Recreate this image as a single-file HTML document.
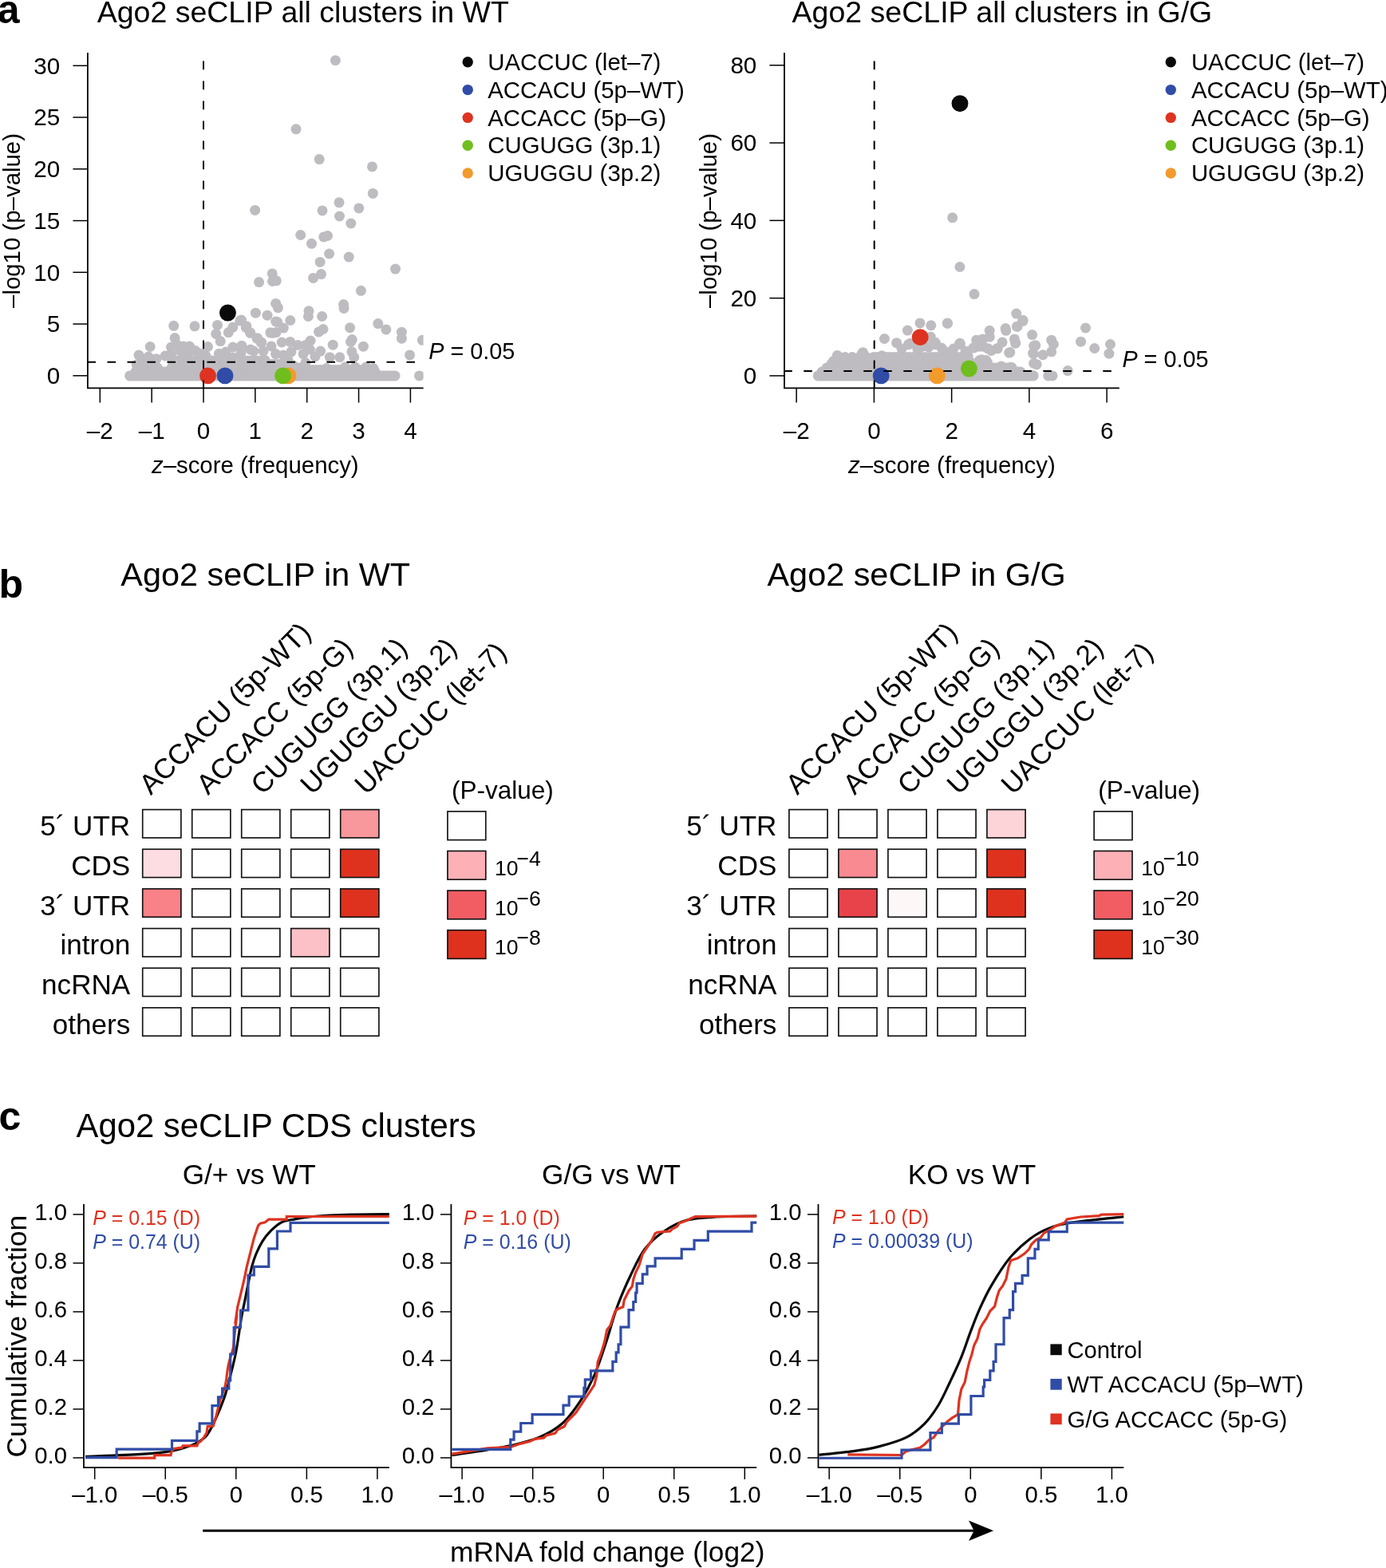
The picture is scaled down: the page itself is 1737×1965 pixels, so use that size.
<!DOCTYPE html>
<html><head><meta charset="utf-8"><title>Ago2 seCLIP figure</title>
<style>
html,body{margin:0;padding:0;background:#fff;}
svg{display:block;}
text{font-family:"Liberation Sans", Arial, Helvetica, sans-serif;}
</style></head>
<body>
<svg width="1737" height="1965" viewBox="0 0 1737 1965">
<rect x="0" y="0" width="1737" height="1965" fill="#fff"/>
<text x="-3.2" y="28.5" font-size="50" font-weight="bold">a</text>
<text x="121.7" y="28.4" font-size="37.5">Ago2 seCLIP all clusters in WT</text>
<clipPath id="cwt"><rect x="109.9" y="66" width="420.7" height="420.3"/></clipPath>
<g clip-path="url(#cwt)">
<g fill="#bebcc0">
<circle cx="162.6" cy="470.9" r="6.5"/>
<circle cx="165.1" cy="470.9" r="6.5"/>
<circle cx="167.6" cy="470.9" r="6.5"/>
<circle cx="170.1" cy="470.9" r="6.5"/>
<circle cx="172.6" cy="470.9" r="6.5"/>
<circle cx="175.1" cy="470.9" r="6.5"/>
<circle cx="177.6" cy="470.9" r="6.5"/>
<circle cx="180.1" cy="470.9" r="6.5"/>
<circle cx="182.6" cy="470.9" r="6.5"/>
<circle cx="185.1" cy="470.9" r="6.5"/>
<circle cx="187.6" cy="470.9" r="6.5"/>
<circle cx="190.1" cy="470.9" r="6.5"/>
<circle cx="192.6" cy="470.9" r="6.5"/>
<circle cx="195.1" cy="470.9" r="6.5"/>
<circle cx="197.6" cy="470.9" r="6.5"/>
<circle cx="200.1" cy="470.9" r="6.5"/>
<circle cx="202.6" cy="470.9" r="6.5"/>
<circle cx="205.1" cy="470.9" r="6.5"/>
<circle cx="207.6" cy="470.9" r="6.5"/>
<circle cx="210.1" cy="470.9" r="6.5"/>
<circle cx="212.6" cy="470.9" r="6.5"/>
<circle cx="215.1" cy="470.9" r="6.5"/>
<circle cx="217.6" cy="470.9" r="6.5"/>
<circle cx="220.1" cy="470.9" r="6.5"/>
<circle cx="222.6" cy="470.9" r="6.5"/>
<circle cx="225.1" cy="470.9" r="6.5"/>
<circle cx="227.6" cy="470.9" r="6.5"/>
<circle cx="230.1" cy="470.9" r="6.5"/>
<circle cx="232.6" cy="470.9" r="6.5"/>
<circle cx="235.1" cy="470.9" r="6.5"/>
<circle cx="237.6" cy="470.9" r="6.5"/>
<circle cx="240.1" cy="470.9" r="6.5"/>
<circle cx="242.6" cy="470.9" r="6.5"/>
<circle cx="245.1" cy="470.9" r="6.5"/>
<circle cx="247.6" cy="470.9" r="6.5"/>
<circle cx="250.1" cy="470.9" r="6.5"/>
<circle cx="252.6" cy="470.9" r="6.5"/>
<circle cx="255.1" cy="470.9" r="6.5"/>
<circle cx="257.6" cy="470.9" r="6.5"/>
<circle cx="260.1" cy="470.9" r="6.5"/>
<circle cx="262.6" cy="470.9" r="6.5"/>
<circle cx="265.1" cy="470.9" r="6.5"/>
<circle cx="267.6" cy="470.9" r="6.5"/>
<circle cx="270.1" cy="470.9" r="6.5"/>
<circle cx="272.6" cy="470.9" r="6.5"/>
<circle cx="275.1" cy="470.9" r="6.5"/>
<circle cx="277.6" cy="470.9" r="6.5"/>
<circle cx="280.1" cy="470.9" r="6.5"/>
<circle cx="282.6" cy="470.9" r="6.5"/>
<circle cx="285.1" cy="470.9" r="6.5"/>
<circle cx="287.6" cy="470.9" r="6.5"/>
<circle cx="290.1" cy="470.9" r="6.5"/>
<circle cx="292.6" cy="470.9" r="6.5"/>
<circle cx="295.1" cy="470.9" r="6.5"/>
<circle cx="297.6" cy="470.9" r="6.5"/>
<circle cx="300.1" cy="470.9" r="6.5"/>
<circle cx="302.6" cy="470.9" r="6.5"/>
<circle cx="305.1" cy="470.9" r="6.5"/>
<circle cx="307.6" cy="470.9" r="6.5"/>
<circle cx="310.1" cy="470.9" r="6.5"/>
<circle cx="312.6" cy="470.9" r="6.5"/>
<circle cx="315.1" cy="470.9" r="6.5"/>
<circle cx="317.6" cy="470.9" r="6.5"/>
<circle cx="320.1" cy="470.9" r="6.5"/>
<circle cx="322.6" cy="470.9" r="6.5"/>
<circle cx="325.1" cy="470.9" r="6.5"/>
<circle cx="327.6" cy="470.9" r="6.5"/>
<circle cx="330.1" cy="470.9" r="6.5"/>
<circle cx="332.6" cy="470.9" r="6.5"/>
<circle cx="335.1" cy="470.9" r="6.5"/>
<circle cx="337.6" cy="470.9" r="6.5"/>
<circle cx="340.1" cy="470.9" r="6.5"/>
<circle cx="342.6" cy="470.9" r="6.5"/>
<circle cx="345.1" cy="470.9" r="6.5"/>
<circle cx="347.6" cy="470.9" r="6.5"/>
<circle cx="350.1" cy="470.9" r="6.5"/>
<circle cx="352.6" cy="470.9" r="6.5"/>
<circle cx="355.1" cy="470.9" r="6.5"/>
<circle cx="357.6" cy="470.9" r="6.5"/>
<circle cx="360.1" cy="470.9" r="6.5"/>
<circle cx="362.6" cy="470.9" r="6.5"/>
<circle cx="365.1" cy="470.9" r="6.5"/>
<circle cx="367.6" cy="470.9" r="6.5"/>
<circle cx="370.1" cy="470.9" r="6.5"/>
<circle cx="372.6" cy="470.9" r="6.5"/>
<circle cx="375.1" cy="470.9" r="6.5"/>
<circle cx="377.6" cy="470.9" r="6.5"/>
<circle cx="380.1" cy="470.9" r="6.5"/>
<circle cx="382.6" cy="470.9" r="6.5"/>
<circle cx="385.1" cy="470.9" r="6.5"/>
<circle cx="387.6" cy="470.9" r="6.5"/>
<circle cx="390.1" cy="470.9" r="6.5"/>
<circle cx="392.6" cy="470.9" r="6.5"/>
<circle cx="395.1" cy="470.9" r="6.5"/>
<circle cx="397.6" cy="470.9" r="6.5"/>
<circle cx="400.1" cy="470.9" r="6.5"/>
<circle cx="402.6" cy="470.9" r="6.5"/>
<circle cx="405.1" cy="470.9" r="6.5"/>
<circle cx="407.6" cy="470.9" r="6.5"/>
<circle cx="410.1" cy="470.9" r="6.5"/>
<circle cx="412.6" cy="470.9" r="6.5"/>
<circle cx="415.1" cy="470.9" r="6.5"/>
<circle cx="417.6" cy="470.9" r="6.5"/>
<circle cx="420.1" cy="470.9" r="6.5"/>
<circle cx="422.6" cy="470.9" r="6.5"/>
<circle cx="425.1" cy="470.9" r="6.5"/>
<circle cx="427.6" cy="470.9" r="6.5"/>
<circle cx="430.1" cy="470.9" r="6.5"/>
<circle cx="432.6" cy="470.9" r="6.5"/>
<circle cx="435.1" cy="470.9" r="6.5"/>
<circle cx="437.6" cy="470.9" r="6.5"/>
<circle cx="440.1" cy="470.9" r="6.5"/>
<circle cx="442.6" cy="470.9" r="6.5"/>
<circle cx="445.1" cy="470.9" r="6.5"/>
<circle cx="447.6" cy="470.9" r="6.5"/>
<circle cx="450.1" cy="470.9" r="6.5"/>
<circle cx="452.6" cy="470.9" r="6.5"/>
<circle cx="455.1" cy="470.9" r="6.5"/>
<circle cx="457.6" cy="470.9" r="6.5"/>
<circle cx="460.1" cy="470.9" r="6.5"/>
<circle cx="462.6" cy="470.9" r="6.5"/>
<circle cx="465.1" cy="470.9" r="6.5"/>
<circle cx="467.6" cy="470.9" r="6.5"/>
<circle cx="470.1" cy="470.9" r="6.5"/>
<circle cx="472.6" cy="470.9" r="6.5"/>
<circle cx="475.1" cy="470.9" r="6.5"/>
<circle cx="477.6" cy="470.9" r="6.5"/>
<circle cx="480.1" cy="470.9" r="6.5"/>
<circle cx="482.6" cy="470.9" r="6.5"/>
<circle cx="485.1" cy="470.9" r="6.5"/>
<circle cx="487.6" cy="470.9" r="6.5"/>
<circle cx="490.1" cy="470.9" r="6.5"/>
<circle cx="492.6" cy="470.9" r="6.5"/>
<circle cx="495.1" cy="470.9" r="6.5"/>
<circle cx="170" cy="466" r="6.5"/>
<circle cx="173" cy="466" r="6.5"/>
<circle cx="176" cy="466" r="6.5"/>
<circle cx="179" cy="466" r="6.5"/>
<circle cx="182" cy="466" r="6.5"/>
<circle cx="185" cy="466" r="6.5"/>
<circle cx="188" cy="466" r="6.5"/>
<circle cx="191" cy="466" r="6.5"/>
<circle cx="194" cy="466" r="6.5"/>
<circle cx="197" cy="466" r="6.5"/>
<circle cx="200" cy="466" r="6.5"/>
<circle cx="203" cy="466" r="6.5"/>
<circle cx="206" cy="466" r="6.5"/>
<circle cx="209" cy="466" r="6.5"/>
<circle cx="212" cy="466" r="6.5"/>
<circle cx="215" cy="466" r="6.5"/>
<circle cx="218" cy="466" r="6.5"/>
<circle cx="221" cy="466" r="6.5"/>
<circle cx="224" cy="466" r="6.5"/>
<circle cx="227" cy="466" r="6.5"/>
<circle cx="230" cy="466" r="6.5"/>
<circle cx="233" cy="466" r="6.5"/>
<circle cx="236" cy="466" r="6.5"/>
<circle cx="239" cy="466" r="6.5"/>
<circle cx="242" cy="466" r="6.5"/>
<circle cx="245" cy="466" r="6.5"/>
<circle cx="248" cy="466" r="6.5"/>
<circle cx="251" cy="466" r="6.5"/>
<circle cx="254" cy="466" r="6.5"/>
<circle cx="257" cy="466" r="6.5"/>
<circle cx="260" cy="466" r="6.5"/>
<circle cx="263" cy="466" r="6.5"/>
<circle cx="266" cy="466" r="6.5"/>
<circle cx="269" cy="466" r="6.5"/>
<circle cx="272" cy="466" r="6.5"/>
<circle cx="275" cy="466" r="6.5"/>
<circle cx="278" cy="466" r="6.5"/>
<circle cx="281" cy="466" r="6.5"/>
<circle cx="284" cy="466" r="6.5"/>
<circle cx="287" cy="466" r="6.5"/>
<circle cx="290" cy="466" r="6.5"/>
<circle cx="293" cy="466" r="6.5"/>
<circle cx="296" cy="466" r="6.5"/>
<circle cx="299" cy="466" r="6.5"/>
<circle cx="302" cy="466" r="6.5"/>
<circle cx="305" cy="466" r="6.5"/>
<circle cx="308" cy="466" r="6.5"/>
<circle cx="311" cy="466" r="6.5"/>
<circle cx="314" cy="466" r="6.5"/>
<circle cx="317" cy="466" r="6.5"/>
<circle cx="320" cy="466" r="6.5"/>
<circle cx="323" cy="466" r="6.5"/>
<circle cx="326" cy="466" r="6.5"/>
<circle cx="329" cy="466" r="6.5"/>
<circle cx="332" cy="466" r="6.5"/>
<circle cx="335" cy="466" r="6.5"/>
<circle cx="338" cy="466" r="6.5"/>
<circle cx="341" cy="466" r="6.5"/>
<circle cx="344" cy="466" r="6.5"/>
<circle cx="347" cy="466" r="6.5"/>
<circle cx="350" cy="466" r="6.5"/>
<circle cx="353" cy="466" r="6.5"/>
<circle cx="356" cy="466" r="6.5"/>
<circle cx="359" cy="466" r="6.5"/>
<circle cx="362" cy="466" r="6.5"/>
<circle cx="365" cy="466" r="6.5"/>
<circle cx="368" cy="466" r="6.5"/>
<circle cx="371" cy="466" r="6.5"/>
<circle cx="374" cy="466" r="6.5"/>
<circle cx="377" cy="466" r="6.5"/>
<circle cx="380" cy="466" r="6.5"/>
<circle cx="383" cy="466" r="6.5"/>
<circle cx="386" cy="466" r="6.5"/>
<circle cx="389" cy="466" r="6.5"/>
<circle cx="392" cy="466" r="6.5"/>
<circle cx="395" cy="466" r="6.5"/>
<circle cx="398" cy="466" r="6.5"/>
<circle cx="401" cy="466" r="6.5"/>
<circle cx="404" cy="466" r="6.5"/>
<circle cx="407" cy="466" r="6.5"/>
<circle cx="410" cy="466" r="6.5"/>
<circle cx="413" cy="466" r="6.5"/>
<circle cx="416" cy="466" r="6.5"/>
<circle cx="419" cy="466" r="6.5"/>
<circle cx="422" cy="466" r="6.5"/>
<circle cx="425" cy="466" r="6.5"/>
<circle cx="428" cy="466" r="6.5"/>
<circle cx="431" cy="466" r="6.5"/>
<circle cx="434" cy="466" r="6.5"/>
<circle cx="437" cy="466" r="6.5"/>
<circle cx="440" cy="466" r="6.5"/>
<circle cx="443" cy="466" r="6.5"/>
<circle cx="446" cy="466" r="6.5"/>
<circle cx="449" cy="466" r="6.5"/>
<circle cx="452" cy="466" r="6.5"/>
<circle cx="455" cy="466" r="6.5"/>
<circle cx="458" cy="466" r="6.5"/>
<circle cx="461" cy="466" r="6.5"/>
<circle cx="464" cy="466" r="6.5"/>
<circle cx="467" cy="466" r="6.5"/>
<circle cx="470" cy="466" r="6.5"/>
<circle cx="173" cy="461" r="6.5"/>
<circle cx="176.5" cy="461" r="6.5"/>
<circle cx="180" cy="461" r="6.5"/>
<circle cx="183.5" cy="461" r="6.5"/>
<circle cx="187" cy="461" r="6.5"/>
<circle cx="190.5" cy="461" r="6.5"/>
<circle cx="194" cy="461" r="6.5"/>
<circle cx="197.5" cy="461" r="6.5"/>
<circle cx="215" cy="461" r="6.5"/>
<circle cx="218.5" cy="461" r="6.5"/>
<circle cx="222" cy="461" r="6.5"/>
<circle cx="225.5" cy="461" r="6.5"/>
<circle cx="229" cy="461" r="6.5"/>
<circle cx="232.5" cy="461" r="6.5"/>
<circle cx="236" cy="461" r="6.5"/>
<circle cx="239.5" cy="461" r="6.5"/>
<circle cx="243" cy="461" r="6.5"/>
<circle cx="246.5" cy="461" r="6.5"/>
<circle cx="250" cy="461" r="6.5"/>
<circle cx="253.5" cy="461" r="6.5"/>
<circle cx="257" cy="461" r="6.5"/>
<circle cx="260.5" cy="461" r="6.5"/>
<circle cx="264" cy="461" r="6.5"/>
<circle cx="267.5" cy="461" r="6.5"/>
<circle cx="271" cy="461" r="6.5"/>
<circle cx="274.5" cy="461" r="6.5"/>
<circle cx="278" cy="461" r="6.5"/>
<circle cx="281.5" cy="461" r="6.5"/>
<circle cx="285" cy="461" r="6.5"/>
<circle cx="288.5" cy="461" r="6.5"/>
<circle cx="292" cy="461" r="6.5"/>
<circle cx="295.5" cy="461" r="6.5"/>
<circle cx="299" cy="461" r="6.5"/>
<circle cx="302.5" cy="461" r="6.5"/>
<circle cx="306" cy="461" r="6.5"/>
<circle cx="309.5" cy="461" r="6.5"/>
<circle cx="313" cy="461" r="6.5"/>
<circle cx="316.5" cy="461" r="6.5"/>
<circle cx="320" cy="461" r="6.5"/>
<circle cx="323.5" cy="461" r="6.5"/>
<circle cx="327" cy="461" r="6.5"/>
<circle cx="330.5" cy="461" r="6.5"/>
<circle cx="334" cy="461" r="6.5"/>
<circle cx="337.5" cy="461" r="6.5"/>
<circle cx="341" cy="461" r="6.5"/>
<circle cx="344.5" cy="461" r="6.5"/>
<circle cx="348" cy="461" r="6.5"/>
<circle cx="351.5" cy="461" r="6.5"/>
<circle cx="355" cy="461" r="6.5"/>
<circle cx="358.5" cy="461" r="6.5"/>
<circle cx="362" cy="461" r="6.5"/>
<circle cx="365.5" cy="461" r="6.5"/>
<circle cx="369" cy="461" r="6.5"/>
<circle cx="372.5" cy="461" r="6.5"/>
<circle cx="376" cy="461" r="6.5"/>
<circle cx="379.5" cy="461" r="6.5"/>
<circle cx="383" cy="463.5" r="6.5"/>
<circle cx="387.5" cy="463.5" r="6.5"/>
<circle cx="392" cy="463.5" r="6.5"/>
<circle cx="396.5" cy="463.5" r="6.5"/>
<circle cx="401" cy="463.5" r="6.5"/>
<circle cx="405.5" cy="463.5" r="6.5"/>
<circle cx="410" cy="463.5" r="6.5"/>
<circle cx="414.5" cy="463.5" r="6.5"/>
<circle cx="419" cy="463.5" r="6.5"/>
<circle cx="423.5" cy="463.5" r="6.5"/>
<circle cx="428" cy="463.5" r="6.5"/>
<circle cx="432.5" cy="463.5" r="6.5"/>
<circle cx="437" cy="463.5" r="6.5"/>
<circle cx="441.5" cy="463.5" r="6.5"/>
<circle cx="446" cy="463.5" r="6.5"/>
<circle cx="450.5" cy="463.5" r="6.5"/>
<circle cx="455" cy="463.5" r="6.5"/>
<circle cx="459.5" cy="463.5" r="6.5"/>
<circle cx="464" cy="463.5" r="6.5"/>
<circle cx="468.5" cy="463.5" r="6.5"/>
<circle cx="177" cy="456.5" r="6.5"/>
<circle cx="181" cy="456.5" r="6.5"/>
<circle cx="185" cy="456.5" r="6.5"/>
<circle cx="189" cy="456.5" r="6.5"/>
<circle cx="193" cy="456.5" r="6.5"/>
<circle cx="217" cy="456.5" r="6.5"/>
<circle cx="221" cy="456.5" r="6.5"/>
<circle cx="225" cy="456.5" r="6.5"/>
<circle cx="229" cy="456.5" r="6.5"/>
<circle cx="233" cy="456.5" r="6.5"/>
<circle cx="237" cy="456.5" r="6.5"/>
<circle cx="241" cy="456.5" r="6.5"/>
<circle cx="245" cy="456.5" r="6.5"/>
<circle cx="249" cy="456.5" r="6.5"/>
<circle cx="253" cy="456.5" r="6.5"/>
<circle cx="257" cy="456.5" r="6.5"/>
<circle cx="261" cy="456.5" r="6.5"/>
<circle cx="265" cy="456.5" r="6.5"/>
<circle cx="269" cy="456.5" r="6.5"/>
<circle cx="273" cy="456.5" r="6.5"/>
<circle cx="277" cy="456.5" r="6.5"/>
<circle cx="281" cy="456.5" r="6.5"/>
<circle cx="285" cy="456.5" r="6.5"/>
<circle cx="289" cy="456.5" r="6.5"/>
<circle cx="293" cy="456.5" r="6.5"/>
<circle cx="297" cy="456.5" r="6.5"/>
<circle cx="301" cy="456.5" r="6.5"/>
<circle cx="305" cy="456.5" r="6.5"/>
<circle cx="309" cy="456.5" r="6.5"/>
<circle cx="313" cy="456.5" r="6.5"/>
<circle cx="317" cy="456.5" r="6.5"/>
<circle cx="321" cy="456.5" r="6.5"/>
<circle cx="325" cy="456.5" r="6.5"/>
<circle cx="329" cy="456.5" r="6.5"/>
<circle cx="333" cy="456.5" r="6.5"/>
<circle cx="337" cy="456.5" r="6.5"/>
<circle cx="341" cy="456.5" r="6.5"/>
<circle cx="345" cy="456.5" r="6.5"/>
<circle cx="349" cy="456.5" r="6.5"/>
<circle cx="353" cy="456.5" r="6.5"/>
<circle cx="357" cy="456.5" r="6.5"/>
<circle cx="216" cy="452" r="6.5"/>
<circle cx="221" cy="452" r="6.5"/>
<circle cx="226" cy="452" r="6.5"/>
<circle cx="231" cy="452" r="6.5"/>
<circle cx="236" cy="452" r="6.5"/>
<circle cx="241" cy="452" r="6.5"/>
<circle cx="246" cy="452" r="6.5"/>
<circle cx="251" cy="452" r="6.5"/>
<circle cx="256" cy="452" r="6.5"/>
<circle cx="261" cy="452" r="6.5"/>
<circle cx="266" cy="452" r="6.5"/>
<circle cx="271" cy="452" r="6.5"/>
<circle cx="276" cy="452" r="6.5"/>
<circle cx="281" cy="452" r="6.5"/>
<circle cx="286" cy="452" r="6.5"/>
<circle cx="291" cy="452" r="6.5"/>
<circle cx="296" cy="452" r="6.5"/>
<circle cx="301" cy="452" r="6.5"/>
<circle cx="306" cy="452" r="6.5"/>
<circle cx="311" cy="452" r="6.5"/>
<circle cx="316" cy="452" r="6.5"/>
<circle cx="321" cy="452" r="6.5"/>
<circle cx="326" cy="452" r="6.5"/>
<circle cx="420.4" cy="75.7" r="6.5"/>
<circle cx="371" cy="161.8" r="6.5"/>
<circle cx="400.2" cy="199.6" r="6.5"/>
<circle cx="466.5" cy="208.9" r="6.5"/>
<circle cx="467.3" cy="242.4" r="6.5"/>
<circle cx="425" cy="253.8" r="6.5"/>
<circle cx="319.6" cy="263.4" r="6.5"/>
<circle cx="404" cy="263.9" r="6.5"/>
<circle cx="449.8" cy="260.9" r="6.5"/>
<circle cx="425.5" cy="271" r="6.5"/>
<circle cx="439.8" cy="280" r="6.5"/>
<circle cx="376.7" cy="294.5" r="6.5"/>
<circle cx="390.5" cy="305.3" r="6.5"/>
<circle cx="405.7" cy="296.9" r="6.5"/>
<circle cx="410.5" cy="295.5" r="6.5"/>
<circle cx="412.6" cy="318" r="6.5"/>
<circle cx="437.2" cy="322.1" r="6.5"/>
<circle cx="401.1" cy="328.4" r="6.5"/>
<circle cx="495.5" cy="337.1" r="6.5"/>
<circle cx="341.2" cy="342.9" r="6.5"/>
<circle cx="324.6" cy="353.6" r="6.5"/>
<circle cx="341.5" cy="352.5" r="6.5"/>
<circle cx="346.3" cy="351.8" r="6.5"/>
<circle cx="392.6" cy="348.4" r="6.5"/>
<circle cx="402.5" cy="343.6" r="6.5"/>
<circle cx="452.4" cy="364.3" r="6.5"/>
<circle cx="430.6" cy="381.6" r="6.5"/>
<circle cx="431" cy="386.4" r="6.5"/>
<circle cx="345.6" cy="380.4" r="6.5"/>
<circle cx="348.4" cy="385.7" r="6.5"/>
<circle cx="320.4" cy="392.2" r="6.5"/>
<circle cx="335" cy="395.2" r="6.5"/>
<circle cx="387" cy="389.8" r="6.5"/>
<circle cx="386.4" cy="396.5" r="6.5"/>
<circle cx="403.6" cy="396.5" r="6.5"/>
<circle cx="363.8" cy="401.5" r="6.5"/>
<circle cx="347.7" cy="403.5" r="6.5"/>
<circle cx="302.5" cy="401" r="6.5"/>
<circle cx="473.8" cy="405.6" r="6.5"/>
<circle cx="483.8" cy="412.9" r="6.5"/>
<circle cx="503.4" cy="416.2" r="6.5"/>
<circle cx="503.4" cy="424.2" r="6.5"/>
<circle cx="529.4" cy="426.3" r="6.5"/>
<circle cx="513.5" cy="444.9" r="6.5"/>
<circle cx="355.3" cy="411.1" r="6.5"/>
<circle cx="341.5" cy="417.3" r="6.5"/>
<circle cx="346" cy="416.6" r="6.5"/>
<circle cx="399.5" cy="415.9" r="6.5"/>
<circle cx="405" cy="412.5" r="6.5"/>
<circle cx="438.6" cy="410.7" r="6.5"/>
<circle cx="308.3" cy="410.4" r="6.5"/>
<circle cx="313.8" cy="417.3" r="6.5"/>
<circle cx="322.1" cy="424.2" r="6.5"/>
<circle cx="327.6" cy="429" r="6.5"/>
<circle cx="302.8" cy="435.3" r="6.5"/>
<circle cx="313.8" cy="438" r="6.5"/>
<circle cx="340" cy="433.9" r="6.5"/>
<circle cx="345.6" cy="443.6" r="6.5"/>
<circle cx="353.2" cy="429" r="6.5"/>
<circle cx="363.6" cy="428.4" r="6.5"/>
<circle cx="365" cy="440.8" r="6.5"/>
<circle cx="373.2" cy="432.5" r="6.5"/>
<circle cx="382.9" cy="432.5" r="6.5"/>
<circle cx="389.1" cy="427" r="6.5"/>
<circle cx="388.4" cy="438" r="6.5"/>
<circle cx="380.1" cy="443.6" r="6.5"/>
<circle cx="401.6" cy="440.1" r="6.5"/>
<circle cx="417.2" cy="432.2" r="6.5"/>
<circle cx="441.2" cy="425.6" r="6.5"/>
<circle cx="439.5" cy="428.4" r="6.5"/>
<circle cx="455.4" cy="434.2" r="6.5"/>
<circle cx="440.9" cy="440.8" r="6.5"/>
<circle cx="413.3" cy="447.7" r="6.5"/>
<circle cx="425.7" cy="447.7" r="6.5"/>
<circle cx="443.7" cy="447.7" r="6.5"/>
<circle cx="331.8" cy="451.8" r="6.5"/>
<circle cx="360.8" cy="450.5" r="6.5"/>
<circle cx="382.9" cy="454.6" r="6.5"/>
<circle cx="367.7" cy="458" r="6.5"/>
<circle cx="409.2" cy="461.5" r="6.5"/>
<circle cx="432.6" cy="460.1" r="6.5"/>
<circle cx="445.1" cy="460.1" r="6.5"/>
<circle cx="458.9" cy="460.1" r="6.5"/>
<circle cx="467.9" cy="461.5" r="6.5"/>
<circle cx="217.7" cy="408.3" r="6.5"/>
<circle cx="244" cy="408.8" r="6.5"/>
<circle cx="188.2" cy="434.5" r="6.5"/>
<circle cx="219.1" cy="423.5" r="6.5"/>
<circle cx="174" cy="445.1" r="6.5"/>
<circle cx="186" cy="447" r="6.5"/>
<circle cx="196" cy="449.7" r="6.5"/>
<circle cx="214.5" cy="435" r="6.5"/>
<circle cx="214.5" cy="443.3" r="6.5"/>
<circle cx="222" cy="432" r="6.5"/>
<circle cx="230.1" cy="434.1" r="6.5"/>
<circle cx="237.5" cy="434.1" r="6.5"/>
<circle cx="244.9" cy="439.6" r="6.5"/>
<circle cx="251.3" cy="443.3" r="6.5"/>
<circle cx="260.5" cy="434.5" r="6.5"/>
<circle cx="272.5" cy="407.4" r="6.5"/>
<circle cx="270.7" cy="418.4" r="6.5"/>
<circle cx="276.2" cy="427.6" r="6.5"/>
<circle cx="286.3" cy="416.6" r="6.5"/>
<circle cx="291.9" cy="410.1" r="6.5"/>
<circle cx="300.8" cy="401.9" r="6.5"/>
<circle cx="308.9" cy="408.8" r="6.5"/>
<circle cx="313.5" cy="416.8" r="6.5"/>
<circle cx="274.4" cy="443.3" r="6.5"/>
<circle cx="291.9" cy="435" r="6.5"/>
<circle cx="302.9" cy="433.2" r="6.5"/>
<circle cx="302" cy="442.4" r="6.5"/>
<circle cx="291.9" cy="447.9" r="6.5"/>
<circle cx="216.3" cy="451.6" r="6.5"/>
<circle cx="171.2" cy="457.1" r="6.5"/>
<circle cx="322.7" cy="423.8" r="6.5"/>
<circle cx="327.3" cy="429.5" r="6.5"/>
<circle cx="338.8" cy="416.8" r="6.5"/>
<circle cx="345.7" cy="403" r="6.5"/>
<circle cx="331.9" cy="451.4" r="6.5"/>
<circle cx="226" cy="440" r="6.5"/>
<circle cx="235" cy="445" r="6.5"/>
<circle cx="258" cy="446" r="6.5"/>
<circle cx="283" cy="441" r="6.5"/>
<circle cx="318" cy="440" r="6.5"/>
<circle cx="330" cy="440" r="6.5"/>
<circle cx="355" cy="445" r="6.5"/>
<circle cx="395" cy="447" r="6.5"/>
<circle cx="207" cy="446" r="6.5"/>
<circle cx="180" cy="452" r="6.5"/>
<circle cx="525.5" cy="470.9" r="6.5"/>
</g>
<circle cx="260.5" cy="470.9" r="10.45" fill="#de3320"/>
<circle cx="282" cy="470.9" r="10.45" fill="#304ca6"/>
<circle cx="361" cy="470.9" r="10.45" fill="#f39a2c"/>
<circle cx="285.45" cy="392" r="10.45" fill="#0a0a0a"/>
<path d="M109.9,453.8H120M134.5,453.8H145M159.5,453.8H170M184.5,453.8H195M209.5,453.8H220M234.5,453.8H245M259.5,453.8H270M284.5,453.8H295M309.5,453.8H320M334.5,453.8H345M359.5,453.8H370M384.5,453.8H395M409.5,453.8H420M434.5,453.8H445M459.5,453.8H470M484.5,453.8H495M509.5,453.8H520" stroke="#000" stroke-width="2.0" fill="none"/>
<path d="M255,76.5V87.3M255,101.5V112.3M255,126.5V137.3M255,151.5V162.3M255,176.5V187.3M255,201.5V212.3M255,226.5V237.3M255,251.5V262.3M255,276.5V287.3M255,301.5V312.3M255,326.5V337.3M255,351.5V362.3M255,376.5V387.3M255,401.5V412.3M255,426.5V437.3M255,451.5V462.3M255,476.5V486.3" stroke="#000" stroke-width="2.0" fill="none"/>
<circle cx="354.6" cy="470.9" r="10.45" fill="#6fbe1d"/>
</g>
<path d="M109.9,66 V486.3 H530.6" fill="none" stroke="#000" stroke-width="1.8"/>
<line x1="91.4" y1="470.8" x2="109.9" y2="470.8" stroke="#000" stroke-width="1.5" />
<text x="75.2" y="481.2" font-size="29.6" text-anchor="end">0</text>
<line x1="91.4" y1="406.05" x2="109.9" y2="406.05" stroke="#000" stroke-width="1.5" />
<text x="75.2" y="416.45" font-size="29.6" text-anchor="end">5</text>
<line x1="91.4" y1="341.3" x2="109.9" y2="341.3" stroke="#000" stroke-width="1.5" />
<text x="75.2" y="351.7" font-size="29.6" text-anchor="end">10</text>
<line x1="91.4" y1="276.55" x2="109.9" y2="276.55" stroke="#000" stroke-width="1.5" />
<text x="75.2" y="286.95" font-size="29.6" text-anchor="end">15</text>
<line x1="91.4" y1="211.8" x2="109.9" y2="211.8" stroke="#000" stroke-width="1.5" />
<text x="75.2" y="222.2" font-size="29.6" text-anchor="end">20</text>
<line x1="91.4" y1="147.05" x2="109.9" y2="147.05" stroke="#000" stroke-width="1.5" />
<text x="75.2" y="157.45" font-size="29.6" text-anchor="end">25</text>
<line x1="91.4" y1="82.3" x2="109.9" y2="82.3" stroke="#000" stroke-width="1.5" />
<text x="75.2" y="92.7" font-size="29.6" text-anchor="end">30</text>
<line x1="125.3" y1="486.3" x2="125.3" y2="504.6" stroke="#000" stroke-width="1.5" />
<text x="125.3" y="549.8" font-size="29.6" text-anchor="middle">–2</text>
<line x1="190.15" y1="486.3" x2="190.15" y2="504.6" stroke="#000" stroke-width="1.5" />
<text x="190.15" y="549.8" font-size="29.6" text-anchor="middle">–1</text>
<line x1="255" y1="486.3" x2="255" y2="504.6" stroke="#000" stroke-width="1.5" />
<text x="255" y="549.8" font-size="29.6" text-anchor="middle">0</text>
<line x1="319.85" y1="486.3" x2="319.85" y2="504.6" stroke="#000" stroke-width="1.5" />
<text x="319.85" y="549.8" font-size="29.6" text-anchor="middle">1</text>
<line x1="384.7" y1="486.3" x2="384.7" y2="504.6" stroke="#000" stroke-width="1.5" />
<text x="384.7" y="549.8" font-size="29.6" text-anchor="middle">2</text>
<line x1="449.55" y1="486.3" x2="449.55" y2="504.6" stroke="#000" stroke-width="1.5" />
<text x="449.55" y="549.8" font-size="29.6" text-anchor="middle">3</text>
<line x1="514.4" y1="486.3" x2="514.4" y2="504.6" stroke="#000" stroke-width="1.5" />
<text x="514.4" y="549.8" font-size="29.6" text-anchor="middle">4</text>
<text x="319.8" y="592.7" font-size="29.4" text-anchor="middle"><tspan font-style="italic">z</tspan>–score (frequency)</text>
<text x="25" y="276.5" font-size="29.4" text-anchor="middle" transform="rotate(-90 25 276.5)">–log10 (p–value)</text>
<text x="537.2" y="449.9" font-size="28.8"><tspan font-style="italic">P</tspan> = 0.05</text>
<circle cx="586.2" cy="77.8" r="6.7" fill="#0a0a0a"/>
<text x="611.2" y="88" font-size="29.4">UACCUC (let–7)</text>
<circle cx="586.2" cy="112.6" r="6.7" fill="#304ca6"/>
<text x="611.2" y="122.8" font-size="29.4">ACCACU (5p–WT)</text>
<circle cx="586.2" cy="147.4" r="6.7" fill="#de3320"/>
<text x="611.2" y="157.6" font-size="29.4">ACCACC (5p–G)</text>
<circle cx="586.2" cy="182.2" r="6.7" fill="#6fbe1d"/>
<text x="611.2" y="192.4" font-size="29.4">CUGUGG (3p.1)</text>
<circle cx="586.2" cy="217" r="6.7" fill="#f39a2c"/>
<text x="611.2" y="227.2" font-size="29.4">UGUGGU (3p.2)</text>
<text x="992.6" y="28.4" font-size="37.5">Ago2 seCLIP all clusters in G/G</text>
<clipPath id="cgg"><rect x="983" y="66" width="419.8" height="420.3"/></clipPath>
<g clip-path="url(#cgg)">
<g fill="#bebcc0">
<circle cx="1025.2" cy="470.9" r="6.5"/>
<circle cx="1027.7" cy="470.9" r="6.5"/>
<circle cx="1030.2" cy="470.9" r="6.5"/>
<circle cx="1032.7" cy="470.9" r="6.5"/>
<circle cx="1035.2" cy="470.9" r="6.5"/>
<circle cx="1037.7" cy="470.9" r="6.5"/>
<circle cx="1040.2" cy="470.9" r="6.5"/>
<circle cx="1042.7" cy="470.9" r="6.5"/>
<circle cx="1045.2" cy="470.9" r="6.5"/>
<circle cx="1047.7" cy="470.9" r="6.5"/>
<circle cx="1050.2" cy="470.9" r="6.5"/>
<circle cx="1052.7" cy="470.9" r="6.5"/>
<circle cx="1055.2" cy="470.9" r="6.5"/>
<circle cx="1057.7" cy="470.9" r="6.5"/>
<circle cx="1060.2" cy="470.9" r="6.5"/>
<circle cx="1062.7" cy="470.9" r="6.5"/>
<circle cx="1065.2" cy="470.9" r="6.5"/>
<circle cx="1067.7" cy="470.9" r="6.5"/>
<circle cx="1070.2" cy="470.9" r="6.5"/>
<circle cx="1072.7" cy="470.9" r="6.5"/>
<circle cx="1075.2" cy="470.9" r="6.5"/>
<circle cx="1077.7" cy="470.9" r="6.5"/>
<circle cx="1080.2" cy="470.9" r="6.5"/>
<circle cx="1082.7" cy="470.9" r="6.5"/>
<circle cx="1085.2" cy="470.9" r="6.5"/>
<circle cx="1087.7" cy="470.9" r="6.5"/>
<circle cx="1090.2" cy="470.9" r="6.5"/>
<circle cx="1092.7" cy="470.9" r="6.5"/>
<circle cx="1095.2" cy="470.9" r="6.5"/>
<circle cx="1097.7" cy="470.9" r="6.5"/>
<circle cx="1100.2" cy="470.9" r="6.5"/>
<circle cx="1102.7" cy="470.9" r="6.5"/>
<circle cx="1105.2" cy="470.9" r="6.5"/>
<circle cx="1107.7" cy="470.9" r="6.5"/>
<circle cx="1110.2" cy="470.9" r="6.5"/>
<circle cx="1112.7" cy="470.9" r="6.5"/>
<circle cx="1115.2" cy="470.9" r="6.5"/>
<circle cx="1117.7" cy="470.9" r="6.5"/>
<circle cx="1120.2" cy="470.9" r="6.5"/>
<circle cx="1122.7" cy="470.9" r="6.5"/>
<circle cx="1125.2" cy="470.9" r="6.5"/>
<circle cx="1127.7" cy="470.9" r="6.5"/>
<circle cx="1130.2" cy="470.9" r="6.5"/>
<circle cx="1132.7" cy="470.9" r="6.5"/>
<circle cx="1135.2" cy="470.9" r="6.5"/>
<circle cx="1137.7" cy="470.9" r="6.5"/>
<circle cx="1140.2" cy="470.9" r="6.5"/>
<circle cx="1142.7" cy="470.9" r="6.5"/>
<circle cx="1145.2" cy="470.9" r="6.5"/>
<circle cx="1147.7" cy="470.9" r="6.5"/>
<circle cx="1150.2" cy="470.9" r="6.5"/>
<circle cx="1152.7" cy="470.9" r="6.5"/>
<circle cx="1155.2" cy="470.9" r="6.5"/>
<circle cx="1157.7" cy="470.9" r="6.5"/>
<circle cx="1160.2" cy="470.9" r="6.5"/>
<circle cx="1162.7" cy="470.9" r="6.5"/>
<circle cx="1165.2" cy="470.9" r="6.5"/>
<circle cx="1167.7" cy="470.9" r="6.5"/>
<circle cx="1170.2" cy="470.9" r="6.5"/>
<circle cx="1172.7" cy="470.9" r="6.5"/>
<circle cx="1175.2" cy="470.9" r="6.5"/>
<circle cx="1177.7" cy="470.9" r="6.5"/>
<circle cx="1180.2" cy="470.9" r="6.5"/>
<circle cx="1182.7" cy="470.9" r="6.5"/>
<circle cx="1185.2" cy="470.9" r="6.5"/>
<circle cx="1187.7" cy="470.9" r="6.5"/>
<circle cx="1190.2" cy="470.9" r="6.5"/>
<circle cx="1192.7" cy="470.9" r="6.5"/>
<circle cx="1195.2" cy="470.9" r="6.5"/>
<circle cx="1197.7" cy="470.9" r="6.5"/>
<circle cx="1200.2" cy="470.9" r="6.5"/>
<circle cx="1202.7" cy="470.9" r="6.5"/>
<circle cx="1205.2" cy="470.9" r="6.5"/>
<circle cx="1207.7" cy="470.9" r="6.5"/>
<circle cx="1210.2" cy="470.9" r="6.5"/>
<circle cx="1212.7" cy="470.9" r="6.5"/>
<circle cx="1215.2" cy="470.9" r="6.5"/>
<circle cx="1217.7" cy="470.9" r="6.5"/>
<circle cx="1220.2" cy="470.9" r="6.5"/>
<circle cx="1222.7" cy="470.9" r="6.5"/>
<circle cx="1225.2" cy="470.9" r="6.5"/>
<circle cx="1227.7" cy="470.9" r="6.5"/>
<circle cx="1230.2" cy="470.9" r="6.5"/>
<circle cx="1232.7" cy="470.9" r="6.5"/>
<circle cx="1235.2" cy="470.9" r="6.5"/>
<circle cx="1237.7" cy="470.9" r="6.5"/>
<circle cx="1240.2" cy="470.9" r="6.5"/>
<circle cx="1242.7" cy="470.9" r="6.5"/>
<circle cx="1245.2" cy="470.9" r="6.5"/>
<circle cx="1247.7" cy="470.9" r="6.5"/>
<circle cx="1250.2" cy="470.9" r="6.5"/>
<circle cx="1252.7" cy="470.9" r="6.5"/>
<circle cx="1255.2" cy="470.9" r="6.5"/>
<circle cx="1257.7" cy="470.9" r="6.5"/>
<circle cx="1260.2" cy="470.9" r="6.5"/>
<circle cx="1262.7" cy="470.9" r="6.5"/>
<circle cx="1265.2" cy="470.9" r="6.5"/>
<circle cx="1267.7" cy="470.9" r="6.5"/>
<circle cx="1270.2" cy="470.9" r="6.5"/>
<circle cx="1272.7" cy="470.9" r="6.5"/>
<circle cx="1275.2" cy="470.9" r="6.5"/>
<circle cx="1277.7" cy="470.9" r="6.5"/>
<circle cx="1280.2" cy="470.9" r="6.5"/>
<circle cx="1282.7" cy="470.9" r="6.5"/>
<circle cx="1285.2" cy="470.9" r="6.5"/>
<circle cx="1287.7" cy="470.9" r="6.5"/>
<circle cx="1290.2" cy="470.9" r="6.5"/>
<circle cx="1292.7" cy="470.9" r="6.5"/>
<circle cx="1295.2" cy="470.9" r="6.5"/>
<circle cx="1030" cy="466" r="6.5"/>
<circle cx="1033" cy="466" r="6.5"/>
<circle cx="1036" cy="466" r="6.5"/>
<circle cx="1039" cy="466" r="6.5"/>
<circle cx="1042" cy="466" r="6.5"/>
<circle cx="1045" cy="466" r="6.5"/>
<circle cx="1048" cy="466" r="6.5"/>
<circle cx="1051" cy="466" r="6.5"/>
<circle cx="1054" cy="466" r="6.5"/>
<circle cx="1057" cy="466" r="6.5"/>
<circle cx="1060" cy="466" r="6.5"/>
<circle cx="1063" cy="466" r="6.5"/>
<circle cx="1066" cy="466" r="6.5"/>
<circle cx="1069" cy="466" r="6.5"/>
<circle cx="1072" cy="466" r="6.5"/>
<circle cx="1075" cy="466" r="6.5"/>
<circle cx="1078" cy="466" r="6.5"/>
<circle cx="1081" cy="466" r="6.5"/>
<circle cx="1084" cy="466" r="6.5"/>
<circle cx="1087" cy="466" r="6.5"/>
<circle cx="1090" cy="466" r="6.5"/>
<circle cx="1093" cy="466" r="6.5"/>
<circle cx="1096" cy="466" r="6.5"/>
<circle cx="1099" cy="466" r="6.5"/>
<circle cx="1102" cy="466" r="6.5"/>
<circle cx="1105" cy="466" r="6.5"/>
<circle cx="1108" cy="466" r="6.5"/>
<circle cx="1111" cy="466" r="6.5"/>
<circle cx="1114" cy="466" r="6.5"/>
<circle cx="1117" cy="466" r="6.5"/>
<circle cx="1120" cy="466" r="6.5"/>
<circle cx="1123" cy="466" r="6.5"/>
<circle cx="1126" cy="466" r="6.5"/>
<circle cx="1129" cy="466" r="6.5"/>
<circle cx="1132" cy="466" r="6.5"/>
<circle cx="1135" cy="466" r="6.5"/>
<circle cx="1138" cy="466" r="6.5"/>
<circle cx="1141" cy="466" r="6.5"/>
<circle cx="1144" cy="466" r="6.5"/>
<circle cx="1147" cy="466" r="6.5"/>
<circle cx="1150" cy="466" r="6.5"/>
<circle cx="1153" cy="466" r="6.5"/>
<circle cx="1156" cy="466" r="6.5"/>
<circle cx="1159" cy="466" r="6.5"/>
<circle cx="1162" cy="466" r="6.5"/>
<circle cx="1165" cy="466" r="6.5"/>
<circle cx="1168" cy="466" r="6.5"/>
<circle cx="1171" cy="466" r="6.5"/>
<circle cx="1174" cy="466" r="6.5"/>
<circle cx="1177" cy="466" r="6.5"/>
<circle cx="1180" cy="466" r="6.5"/>
<circle cx="1183" cy="466" r="6.5"/>
<circle cx="1186" cy="466" r="6.5"/>
<circle cx="1189" cy="466" r="6.5"/>
<circle cx="1192" cy="466" r="6.5"/>
<circle cx="1195" cy="466" r="6.5"/>
<circle cx="1198" cy="466" r="6.5"/>
<circle cx="1201" cy="466" r="6.5"/>
<circle cx="1204" cy="466" r="6.5"/>
<circle cx="1207" cy="466" r="6.5"/>
<circle cx="1210" cy="466" r="6.5"/>
<circle cx="1213" cy="466" r="6.5"/>
<circle cx="1216" cy="466" r="6.5"/>
<circle cx="1219" cy="466" r="6.5"/>
<circle cx="1222" cy="466" r="6.5"/>
<circle cx="1225" cy="466" r="6.5"/>
<circle cx="1228" cy="466" r="6.5"/>
<circle cx="1231" cy="466" r="6.5"/>
<circle cx="1234" cy="466" r="6.5"/>
<circle cx="1237" cy="466" r="6.5"/>
<circle cx="1240" cy="466" r="6.5"/>
<circle cx="1243" cy="466" r="6.5"/>
<circle cx="1246" cy="466" r="6.5"/>
<circle cx="1249" cy="466" r="6.5"/>
<circle cx="1252" cy="466" r="6.5"/>
<circle cx="1255" cy="466" r="6.5"/>
<circle cx="1258" cy="466" r="6.5"/>
<circle cx="1261" cy="466" r="6.5"/>
<circle cx="1264" cy="466" r="6.5"/>
<circle cx="1267" cy="466" r="6.5"/>
<circle cx="1270" cy="466" r="6.5"/>
<circle cx="1273" cy="466" r="6.5"/>
<circle cx="1276" cy="466" r="6.5"/>
<circle cx="1279" cy="466" r="6.5"/>
<circle cx="1036" cy="461" r="6.5"/>
<circle cx="1039.5" cy="461" r="6.5"/>
<circle cx="1043" cy="461" r="6.5"/>
<circle cx="1046.5" cy="461" r="6.5"/>
<circle cx="1050" cy="461" r="6.5"/>
<circle cx="1053.5" cy="461" r="6.5"/>
<circle cx="1057" cy="461" r="6.5"/>
<circle cx="1060.5" cy="461" r="6.5"/>
<circle cx="1064" cy="461" r="6.5"/>
<circle cx="1067.5" cy="461" r="6.5"/>
<circle cx="1071" cy="461" r="6.5"/>
<circle cx="1074.5" cy="461" r="6.5"/>
<circle cx="1078" cy="461" r="6.5"/>
<circle cx="1081.5" cy="461" r="6.5"/>
<circle cx="1085" cy="461" r="6.5"/>
<circle cx="1088.5" cy="461" r="6.5"/>
<circle cx="1092" cy="461" r="6.5"/>
<circle cx="1095.5" cy="461" r="6.5"/>
<circle cx="1099" cy="461" r="6.5"/>
<circle cx="1102.5" cy="461" r="6.5"/>
<circle cx="1106" cy="461" r="6.5"/>
<circle cx="1109.5" cy="461" r="6.5"/>
<circle cx="1113" cy="461" r="6.5"/>
<circle cx="1116.5" cy="461" r="6.5"/>
<circle cx="1120" cy="461" r="6.5"/>
<circle cx="1123.5" cy="461" r="6.5"/>
<circle cx="1127" cy="461" r="6.5"/>
<circle cx="1130.5" cy="461" r="6.5"/>
<circle cx="1134" cy="461" r="6.5"/>
<circle cx="1137.5" cy="461" r="6.5"/>
<circle cx="1141" cy="461" r="6.5"/>
<circle cx="1144.5" cy="461" r="6.5"/>
<circle cx="1148" cy="461" r="6.5"/>
<circle cx="1151.5" cy="461" r="6.5"/>
<circle cx="1155" cy="461" r="6.5"/>
<circle cx="1158.5" cy="461" r="6.5"/>
<circle cx="1162" cy="461" r="6.5"/>
<circle cx="1165.5" cy="461" r="6.5"/>
<circle cx="1169" cy="461" r="6.5"/>
<circle cx="1172.5" cy="461" r="6.5"/>
<circle cx="1176" cy="461" r="6.5"/>
<circle cx="1179.5" cy="461" r="6.5"/>
<circle cx="1183" cy="461" r="6.5"/>
<circle cx="1186.5" cy="461" r="6.5"/>
<circle cx="1190" cy="461" r="6.5"/>
<circle cx="1193.5" cy="461" r="6.5"/>
<circle cx="1197" cy="461" r="6.5"/>
<circle cx="1200.5" cy="461" r="6.5"/>
<circle cx="1204" cy="461" r="6.5"/>
<circle cx="1207.5" cy="461" r="6.5"/>
<circle cx="1211" cy="461" r="6.5"/>
<circle cx="1214.5" cy="461" r="6.5"/>
<circle cx="1218" cy="461" r="6.5"/>
<circle cx="1221.5" cy="461" r="6.5"/>
<circle cx="1225" cy="461" r="6.5"/>
<circle cx="1228.5" cy="461" r="6.5"/>
<circle cx="1232" cy="461" r="6.5"/>
<circle cx="1235.5" cy="461" r="6.5"/>
<circle cx="1239" cy="461" r="6.5"/>
<circle cx="1242.5" cy="461" r="6.5"/>
<circle cx="1246" cy="461" r="6.5"/>
<circle cx="1249.5" cy="461" r="6.5"/>
<circle cx="1253" cy="461" r="6.5"/>
<circle cx="1256.5" cy="461" r="6.5"/>
<circle cx="1260" cy="461" r="6.5"/>
<circle cx="1263.5" cy="461" r="6.5"/>
<circle cx="1267" cy="461" r="6.5"/>
<circle cx="1042" cy="456" r="6.5"/>
<circle cx="1046" cy="456" r="6.5"/>
<circle cx="1050" cy="456" r="6.5"/>
<circle cx="1054" cy="456" r="6.5"/>
<circle cx="1058" cy="456" r="6.5"/>
<circle cx="1062" cy="456" r="6.5"/>
<circle cx="1066" cy="456" r="6.5"/>
<circle cx="1070" cy="456" r="6.5"/>
<circle cx="1074" cy="456" r="6.5"/>
<circle cx="1078" cy="456" r="6.5"/>
<circle cx="1082" cy="456" r="6.5"/>
<circle cx="1086" cy="456" r="6.5"/>
<circle cx="1090" cy="456" r="6.5"/>
<circle cx="1094" cy="456" r="6.5"/>
<circle cx="1098" cy="456" r="6.5"/>
<circle cx="1102" cy="456" r="6.5"/>
<circle cx="1106" cy="456" r="6.5"/>
<circle cx="1110" cy="456" r="6.5"/>
<circle cx="1114" cy="456" r="6.5"/>
<circle cx="1118" cy="456" r="6.5"/>
<circle cx="1122" cy="456" r="6.5"/>
<circle cx="1126" cy="456" r="6.5"/>
<circle cx="1130" cy="456" r="6.5"/>
<circle cx="1134" cy="456" r="6.5"/>
<circle cx="1138" cy="456" r="6.5"/>
<circle cx="1142" cy="456" r="6.5"/>
<circle cx="1146" cy="456" r="6.5"/>
<circle cx="1150" cy="456" r="6.5"/>
<circle cx="1154" cy="456" r="6.5"/>
<circle cx="1158" cy="456" r="6.5"/>
<circle cx="1162" cy="456" r="6.5"/>
<circle cx="1166" cy="456" r="6.5"/>
<circle cx="1170" cy="456" r="6.5"/>
<circle cx="1174" cy="456" r="6.5"/>
<circle cx="1178" cy="456" r="6.5"/>
<circle cx="1182" cy="456" r="6.5"/>
<circle cx="1186" cy="456" r="6.5"/>
<circle cx="1190" cy="456" r="6.5"/>
<circle cx="1194" cy="456" r="6.5"/>
<circle cx="1198" cy="456" r="6.5"/>
<circle cx="1202" cy="456" r="6.5"/>
<circle cx="1206" cy="456" r="6.5"/>
<circle cx="1210" cy="456" r="6.5"/>
<circle cx="1214" cy="456" r="6.5"/>
<circle cx="1218" cy="456" r="6.5"/>
<circle cx="1222" cy="456" r="6.5"/>
<circle cx="1048" cy="451.5" r="6.5"/>
<circle cx="1052.5" cy="451.5" r="6.5"/>
<circle cx="1057" cy="451.5" r="6.5"/>
<circle cx="1061.5" cy="451.5" r="6.5"/>
<circle cx="1066" cy="451.5" r="6.5"/>
<circle cx="1070.5" cy="451.5" r="6.5"/>
<circle cx="1075" cy="451.5" r="6.5"/>
<circle cx="1079.5" cy="451.5" r="6.5"/>
<circle cx="1084" cy="451.5" r="6.5"/>
<circle cx="1088.5" cy="451.5" r="6.5"/>
<circle cx="1093" cy="451.5" r="6.5"/>
<circle cx="1097.5" cy="451.5" r="6.5"/>
<circle cx="1102" cy="451.5" r="6.5"/>
<circle cx="1106.5" cy="451.5" r="6.5"/>
<circle cx="1111" cy="451.5" r="6.5"/>
<circle cx="1115.5" cy="451.5" r="6.5"/>
<circle cx="1120" cy="451.5" r="6.5"/>
<circle cx="1124.5" cy="451.5" r="6.5"/>
<circle cx="1129" cy="451.5" r="6.5"/>
<circle cx="1133.5" cy="451.5" r="6.5"/>
<circle cx="1138" cy="451.5" r="6.5"/>
<circle cx="1142.5" cy="451.5" r="6.5"/>
<circle cx="1147" cy="451.5" r="6.5"/>
<circle cx="1151.5" cy="451.5" r="6.5"/>
<circle cx="1156" cy="451.5" r="6.5"/>
<circle cx="1160.5" cy="451.5" r="6.5"/>
<circle cx="1165" cy="451.5" r="6.5"/>
<circle cx="1169.5" cy="451.5" r="6.5"/>
<circle cx="1174" cy="451.5" r="6.5"/>
<circle cx="1178.5" cy="451.5" r="6.5"/>
<circle cx="1183" cy="451.5" r="6.5"/>
<circle cx="1187.5" cy="451.5" r="6.5"/>
<circle cx="1192" cy="451.5" r="6.5"/>
<circle cx="1196.5" cy="451.5" r="6.5"/>
<circle cx="1201" cy="451.5" r="6.5"/>
<circle cx="1205.5" cy="451.5" r="6.5"/>
<circle cx="1210" cy="451.5" r="6.5"/>
<circle cx="1214.5" cy="451.5" r="6.5"/>
<circle cx="1100" cy="447.5" r="6.5"/>
<circle cx="1105" cy="447.5" r="6.5"/>
<circle cx="1110" cy="447.5" r="6.5"/>
<circle cx="1115" cy="447.5" r="6.5"/>
<circle cx="1120" cy="447.5" r="6.5"/>
<circle cx="1125" cy="447.5" r="6.5"/>
<circle cx="1130" cy="447.5" r="6.5"/>
<circle cx="1135" cy="447.5" r="6.5"/>
<circle cx="1140" cy="447.5" r="6.5"/>
<circle cx="1145" cy="447.5" r="6.5"/>
<circle cx="1150" cy="447.5" r="6.5"/>
<circle cx="1155" cy="447.5" r="6.5"/>
<circle cx="1160" cy="447.5" r="6.5"/>
<circle cx="1165" cy="447.5" r="6.5"/>
<circle cx="1170" cy="447.5" r="6.5"/>
<circle cx="1175" cy="447.5" r="6.5"/>
<circle cx="1180" cy="447.5" r="6.5"/>
<circle cx="1185" cy="447.5" r="6.5"/>
<circle cx="1190" cy="447.5" r="6.5"/>
<circle cx="1195" cy="447.5" r="6.5"/>
<circle cx="1200" cy="447.5" r="6.5"/>
<circle cx="1205" cy="447.5" r="6.5"/>
<circle cx="1050" cy="447.5" r="6.5"/>
<circle cx="1059" cy="447.5" r="6.5"/>
<circle cx="1068" cy="447.5" r="6.5"/>
<circle cx="1077" cy="447.5" r="6.5"/>
<circle cx="1086" cy="447.5" r="6.5"/>
<circle cx="1095" cy="447.5" r="6.5"/>
<circle cx="1193.7" cy="272.8" r="6.5"/>
<circle cx="1202.9" cy="334.5" r="6.5"/>
<circle cx="1221" cy="368.6" r="6.5"/>
<circle cx="1187.3" cy="405" r="6.5"/>
<circle cx="1273.7" cy="393.1" r="6.5"/>
<circle cx="1282" cy="401.3" r="6.5"/>
<circle cx="1274.4" cy="409.3" r="6.5"/>
<circle cx="1260.1" cy="411.6" r="6.5"/>
<circle cx="1260.8" cy="414.3" r="6.5"/>
<circle cx="1240.2" cy="414.3" r="6.5"/>
<circle cx="1240.2" cy="422.2" r="6.5"/>
<circle cx="1293.6" cy="419.6" r="6.5"/>
<circle cx="1360.5" cy="411" r="6.5"/>
<circle cx="1354.5" cy="428.2" r="6.5"/>
<circle cx="1371.7" cy="436.5" r="6.5"/>
<circle cx="1391.5" cy="431.5" r="6.5"/>
<circle cx="1389.9" cy="443.2" r="6.5"/>
<circle cx="1317.7" cy="426.2" r="6.5"/>
<circle cx="1320.4" cy="431.5" r="6.5"/>
<circle cx="1317.7" cy="440.8" r="6.5"/>
<circle cx="1297.8" cy="432.8" r="6.5"/>
<circle cx="1295.2" cy="443.4" r="6.5"/>
<circle cx="1307.1" cy="444.7" r="6.5"/>
<circle cx="1299.2" cy="456.7" r="6.5"/>
<circle cx="1271.4" cy="424.9" r="6.5"/>
<circle cx="1272.7" cy="430.2" r="6.5"/>
<circle cx="1264.7" cy="442.1" r="6.5"/>
<circle cx="1256.1" cy="428.9" r="6.5"/>
<circle cx="1223.7" cy="426.2" r="6.5"/>
<circle cx="1231.6" cy="424.9" r="6.5"/>
<circle cx="1219.7" cy="436.1" r="6.5"/>
<circle cx="1227.7" cy="434.2" r="6.5"/>
<circle cx="1242.2" cy="439.4" r="6.5"/>
<circle cx="1250.2" cy="436.8" r="6.5"/>
<circle cx="1203.2" cy="431.5" r="6.5"/>
<circle cx="1213.1" cy="446.1" r="6.5"/>
<circle cx="1182.6" cy="439.4" r="6.5"/>
<circle cx="1193.2" cy="442.1" r="6.5"/>
<circle cx="1230.3" cy="451.4" r="6.5"/>
<circle cx="1235.6" cy="451.4" r="6.5"/>
<circle cx="1240.9" cy="460.6" r="6.5"/>
<circle cx="1253.5" cy="460.6" r="6.5"/>
<circle cx="1267.4" cy="460.6" r="6.5"/>
<circle cx="1338.2" cy="464.6" r="6.5"/>
<circle cx="1313.7" cy="470.9" r="6.5"/>
<circle cx="1319" cy="470.9" r="6.5"/>
<circle cx="1108.4" cy="424.5" r="6.5"/>
<circle cx="1153" cy="404.9" r="6.5"/>
<circle cx="1166.8" cy="407.8" r="6.5"/>
<circle cx="1187.5" cy="405.3" r="6.5"/>
<circle cx="1137.4" cy="414.1" r="6.5"/>
<circle cx="1123.6" cy="429.7" r="6.5"/>
<circle cx="1140.9" cy="430.2" r="6.5"/>
<circle cx="1166.2" cy="422.2" r="6.5"/>
<circle cx="1172" cy="429" r="6.5"/>
<circle cx="1163.9" cy="434.8" r="6.5"/>
<circle cx="1203.1" cy="430.2" r="6.5"/>
<circle cx="1080.4" cy="442.9" r="6.5"/>
<circle cx="1049.9" cy="446.4" r="6.5"/>
<circle cx="1068.4" cy="451" r="6.5"/>
<circle cx="1105.2" cy="445.8" r="6.5"/>
<circle cx="1089.1" cy="451" r="6.5"/>
<circle cx="1044.4" cy="452.6" r="6.5"/>
<circle cx="1038.4" cy="461.6" r="6.5"/>
<circle cx="1281.9" cy="402.3" r="6.5"/>
<circle cx="1275" cy="409.2" r="6.5"/>
<circle cx="1238.2" cy="436.8" r="6.5"/>
<circle cx="1265.8" cy="441.5" r="6.5"/>
<circle cx="1294.6" cy="442.6" r="6.5"/>
<circle cx="1295.7" cy="433.4" r="6.5"/>
<circle cx="1295.7" cy="455.3" r="6.5"/>
<circle cx="1230.1" cy="450.7" r="6.5"/>
<circle cx="1239.3" cy="461" r="6.5"/>
<circle cx="1254.3" cy="461" r="6.5"/>
<circle cx="1268.1" cy="461" r="6.5"/>
<circle cx="1293.4" cy="470.2" r="6.5"/>
<circle cx="1220.9" cy="435.7" r="6.5"/>
<circle cx="1224.4" cy="426.5" r="6.5"/>
<circle cx="1170.8" cy="430.5" r="6.5"/>
<circle cx="1141.5" cy="430.5" r="6.5"/>
<circle cx="1202.5" cy="431.1" r="6.5"/>
<circle cx="1130" cy="437" r="6.5"/>
<circle cx="1150" cy="438" r="6.5"/>
<circle cx="1180" cy="436" r="6.5"/>
<circle cx="1195" cy="437" r="6.5"/>
<circle cx="1210" cy="440" r="6.5"/>
<circle cx="1138.4" cy="431.8" r="6.5"/>
<circle cx="1155.7" cy="434.3" r="6.5"/>
<circle cx="1173.1" cy="431.8" r="6.5"/>
<circle cx="1190.4" cy="441.7" r="6.5"/>
<circle cx="1081.5" cy="441.7" r="6.5"/>
<circle cx="1049.3" cy="445.4" r="6.5"/>
<circle cx="1232.5" cy="434.3" r="6.5"/>
<circle cx="1249.8" cy="436.7" r="6.5"/>
<circle cx="1227.5" cy="451.6" r="6.5"/>
<circle cx="1237.4" cy="454" r="6.5"/>
<circle cx="1254.8" cy="459" r="6.5"/>
<circle cx="1267.1" cy="460.2" r="6.5"/>
</g>
<circle cx="1104.2" cy="470.9" r="10.45" fill="#304ca6"/>
<circle cx="1174.4" cy="470.9" r="10.45" fill="#f39a2c"/>
<circle cx="1153.2" cy="422.6" r="10.45" fill="#de3320"/>
<circle cx="1203" cy="129.7" r="10.45" fill="#0a0a0a"/>
<path d="M983,464.9H992.8M1007.3,464.9H1017.8M1032.3,464.9H1042.8M1057.3,464.9H1067.8M1082.3,464.9H1092.8M1107.3,464.9H1117.8M1132.3,464.9H1142.8M1157.3,464.9H1167.8M1182.3,464.9H1192.8M1207.3,464.9H1217.8M1232.3,464.9H1242.8M1257.3,464.9H1267.8M1282.3,464.9H1292.8M1307.3,464.9H1317.8M1332.3,464.9H1342.8M1357.3,464.9H1367.8M1382.3,464.9H1392.8" stroke="#000" stroke-width="2.0" fill="none"/>
<path d="M1095.7,76.5V87.3M1095.7,101.5V112.3M1095.7,126.5V137.3M1095.7,151.5V162.3M1095.7,176.5V187.3M1095.7,201.5V212.3M1095.7,226.5V237.3M1095.7,251.5V262.3M1095.7,276.5V287.3M1095.7,301.5V312.3M1095.7,326.5V337.3M1095.7,351.5V362.3M1095.7,376.5V387.3M1095.7,401.5V412.3M1095.7,426.5V437.3M1095.7,451.5V462.3M1095.7,476.5V486.3" stroke="#000" stroke-width="2.0" fill="none"/>
<circle cx="1214.4" cy="462" r="10.45" fill="#6fbe1d"/>
</g>
<path d="M983,66 V486.3 H1402.8" fill="none" stroke="#000" stroke-width="1.8"/>
<line x1="964.4" y1="470.9" x2="983" y2="470.9" stroke="#000" stroke-width="1.5" />
<text x="948.3" y="481.3" font-size="29.6" text-anchor="end">0</text>
<line x1="964.4" y1="373.62" x2="983" y2="373.62" stroke="#000" stroke-width="1.5" />
<text x="948.3" y="384.02" font-size="29.6" text-anchor="end">20</text>
<line x1="964.4" y1="276.34" x2="983" y2="276.34" stroke="#000" stroke-width="1.5" />
<text x="948.3" y="286.74" font-size="29.6" text-anchor="end">40</text>
<line x1="964.4" y1="179.06" x2="983" y2="179.06" stroke="#000" stroke-width="1.5" />
<text x="948.3" y="189.46" font-size="29.6" text-anchor="end">60</text>
<line x1="964.4" y1="81.78" x2="983" y2="81.78" stroke="#000" stroke-width="1.5" />
<text x="948.3" y="92.18" font-size="29.6" text-anchor="end">80</text>
<line x1="998.16" y1="486.3" x2="998.16" y2="504.6" stroke="#000" stroke-width="1.5" />
<text x="998.16" y="549.8" font-size="29.6" text-anchor="middle">–2</text>
<line x1="1095.4" y1="486.3" x2="1095.4" y2="504.6" stroke="#000" stroke-width="1.5" />
<text x="1095.4" y="549.8" font-size="29.6" text-anchor="middle">0</text>
<line x1="1192.64" y1="486.3" x2="1192.64" y2="504.6" stroke="#000" stroke-width="1.5" />
<text x="1192.64" y="549.8" font-size="29.6" text-anchor="middle">2</text>
<line x1="1289.88" y1="486.3" x2="1289.88" y2="504.6" stroke="#000" stroke-width="1.5" />
<text x="1289.88" y="549.8" font-size="29.6" text-anchor="middle">4</text>
<line x1="1387.12" y1="486.3" x2="1387.12" y2="504.6" stroke="#000" stroke-width="1.5" />
<text x="1387.12" y="549.8" font-size="29.6" text-anchor="middle">6</text>
<text x="1192.9" y="592.7" font-size="29.4" text-anchor="middle"><tspan font-style="italic">z</tspan>–score (frequency)</text>
<text x="898" y="276.5" font-size="29.4" text-anchor="middle" transform="rotate(-90 898 276.5)">–log10 (p–value)</text>
<text x="1406.4" y="460.3" font-size="28.8"><tspan font-style="italic">P</tspan> = 0.05</text>
<circle cx="1467.3" cy="77.8" r="6.7" fill="#0a0a0a"/>
<text x="1492.9" y="88" font-size="29.4">UACCUC (let–7)</text>
<circle cx="1467.3" cy="112.6" r="6.7" fill="#304ca6"/>
<text x="1492.9" y="122.8" font-size="29.4">ACCACU (5p–WT)</text>
<circle cx="1467.3" cy="147.4" r="6.7" fill="#de3320"/>
<text x="1492.9" y="157.6" font-size="29.4">ACCACC (5p–G)</text>
<circle cx="1467.3" cy="182.2" r="6.7" fill="#6fbe1d"/>
<text x="1492.9" y="192.4" font-size="29.4">CUGUGG (3p.1)</text>
<circle cx="1467.3" cy="217" r="6.7" fill="#f39a2c"/>
<text x="1492.9" y="227.2" font-size="29.4">UGUGGU (3p.2)</text>
<text x="-1.6" y="748.9" font-size="50" font-weight="bold">b</text>
<text x="151.3" y="733.9" font-size="41.4">Ago2 seCLIP in WT</text>
<text x="163.2" y="1047.25" font-size="35.1" text-anchor="end">5´ UTR</text>
<rect x="178.72" y="1014.58" width="48.15" height="35.35" fill="#ffffff" stroke="#111" stroke-width="1.65"/>
<rect x="240.72" y="1014.58" width="48.15" height="35.35" fill="#ffffff" stroke="#111" stroke-width="1.65"/>
<rect x="302.72" y="1014.58" width="48.15" height="35.35" fill="#ffffff" stroke="#111" stroke-width="1.65"/>
<rect x="364.72" y="1014.58" width="48.15" height="35.35" fill="#ffffff" stroke="#111" stroke-width="1.65"/>
<rect x="426.72" y="1014.58" width="48.15" height="35.35" fill="#f8979c" stroke="#111" stroke-width="1.65"/>
<text x="163.2" y="1096.91" font-size="35.1" text-anchor="end">CDS</text>
<rect x="178.72" y="1064.24" width="48.15" height="35.35" fill="#fddde1" stroke="#111" stroke-width="1.65"/>
<rect x="240.72" y="1064.24" width="48.15" height="35.35" fill="#ffffff" stroke="#111" stroke-width="1.65"/>
<rect x="302.72" y="1064.24" width="48.15" height="35.35" fill="#ffffff" stroke="#111" stroke-width="1.65"/>
<rect x="364.72" y="1064.24" width="48.15" height="35.35" fill="#ffffff" stroke="#111" stroke-width="1.65"/>
<rect x="426.72" y="1064.24" width="48.15" height="35.35" fill="#de321f" stroke="#111" stroke-width="1.65"/>
<text x="163.2" y="1146.57" font-size="35.1" text-anchor="end">3´ UTR</text>
<rect x="178.72" y="1113.89" width="48.15" height="35.35" fill="#f98188" stroke="#111" stroke-width="1.65"/>
<rect x="240.72" y="1113.89" width="48.15" height="35.35" fill="#ffffff" stroke="#111" stroke-width="1.65"/>
<rect x="302.72" y="1113.89" width="48.15" height="35.35" fill="#ffffff" stroke="#111" stroke-width="1.65"/>
<rect x="364.72" y="1113.89" width="48.15" height="35.35" fill="#ffffff" stroke="#111" stroke-width="1.65"/>
<rect x="426.72" y="1113.89" width="48.15" height="35.35" fill="#de321f" stroke="#111" stroke-width="1.65"/>
<text x="163.2" y="1196.23" font-size="35.1" text-anchor="end">intron</text>
<rect x="178.72" y="1163.56" width="48.15" height="35.35" fill="#ffffff" stroke="#111" stroke-width="1.65"/>
<rect x="240.72" y="1163.56" width="48.15" height="35.35" fill="#ffffff" stroke="#111" stroke-width="1.65"/>
<rect x="302.72" y="1163.56" width="48.15" height="35.35" fill="#ffffff" stroke="#111" stroke-width="1.65"/>
<rect x="364.72" y="1163.56" width="48.15" height="35.35" fill="#fbc1c6" stroke="#111" stroke-width="1.65"/>
<rect x="426.72" y="1163.56" width="48.15" height="35.35" fill="#ffffff" stroke="#111" stroke-width="1.65"/>
<text x="163.2" y="1245.89" font-size="35.1" text-anchor="end">ncRNA</text>
<rect x="178.72" y="1213.21" width="48.15" height="35.35" fill="#ffffff" stroke="#111" stroke-width="1.65"/>
<rect x="240.72" y="1213.21" width="48.15" height="35.35" fill="#ffffff" stroke="#111" stroke-width="1.65"/>
<rect x="302.72" y="1213.21" width="48.15" height="35.35" fill="#ffffff" stroke="#111" stroke-width="1.65"/>
<rect x="364.72" y="1213.21" width="48.15" height="35.35" fill="#ffffff" stroke="#111" stroke-width="1.65"/>
<rect x="426.72" y="1213.21" width="48.15" height="35.35" fill="#ffffff" stroke="#111" stroke-width="1.65"/>
<text x="163.2" y="1295.55" font-size="35.1" text-anchor="end">others</text>
<rect x="178.72" y="1262.88" width="48.15" height="35.35" fill="#ffffff" stroke="#111" stroke-width="1.65"/>
<rect x="240.72" y="1262.88" width="48.15" height="35.35" fill="#ffffff" stroke="#111" stroke-width="1.65"/>
<rect x="302.72" y="1262.88" width="48.15" height="35.35" fill="#ffffff" stroke="#111" stroke-width="1.65"/>
<rect x="364.72" y="1262.88" width="48.15" height="35.35" fill="#ffffff" stroke="#111" stroke-width="1.65"/>
<rect x="426.72" y="1262.88" width="48.15" height="35.35" fill="#ffffff" stroke="#111" stroke-width="1.65"/>
<text x="189" y="997.3" font-size="35.1" transform="rotate(-45 189 997.3)">ACCACU (5p-WT)</text>
<text x="260.8" y="997.3" font-size="35.1" transform="rotate(-45 260.8 997.3)">ACCACC (5p-G)</text>
<text x="329" y="997.3" font-size="35.1" transform="rotate(-45 329 997.3)">CUGUGG (3p.1)</text>
<text x="391" y="997.3" font-size="35.1" transform="rotate(-45 391 997.3)">UGUGGU (3p.2)</text>
<text x="459" y="997.3" font-size="35.1" transform="rotate(-45 459 997.3)">UACCUC (let-7)</text>
<text x="566" y="1000.8" font-size="31.5">(P-value)</text>
<rect x="560.93" y="1016.88" width="47.85" height="35.75" fill="#ffffff" stroke="#111" stroke-width="1.65"/>
<rect x="560.93" y="1066.47" width="47.85" height="35.75" fill="#fdb1b6" stroke="#111" stroke-width="1.65"/>
<text x="620" y="1097.15" font-size="26.6">10</text>
<text x="647.5" y="1085.05" font-size="26.6">−4</text>
<rect x="560.93" y="1116.08" width="47.85" height="35.75" fill="#f15d63" stroke="#111" stroke-width="1.65"/>
<text x="620" y="1146.75" font-size="26.6">10</text>
<text x="647.5" y="1134.65" font-size="26.6">−6</text>
<rect x="560.93" y="1165.67" width="47.85" height="35.75" fill="#de321f" stroke="#111" stroke-width="1.65"/>
<text x="620" y="1196.35" font-size="26.6">10</text>
<text x="647.5" y="1184.25" font-size="26.6">−8</text>
<text x="961.5" y="733.9" font-size="41.4">Ago2 seCLIP in G/G</text>
<text x="973.4" y="1047.25" font-size="35.1" text-anchor="end">5´ UTR</text>
<rect x="988.93" y="1014.58" width="48.15" height="35.35" fill="#ffffff" stroke="#111" stroke-width="1.65"/>
<rect x="1050.92" y="1014.58" width="48.15" height="35.35" fill="#ffffff" stroke="#111" stroke-width="1.65"/>
<rect x="1112.92" y="1014.58" width="48.15" height="35.35" fill="#ffffff" stroke="#111" stroke-width="1.65"/>
<rect x="1174.92" y="1014.58" width="48.15" height="35.35" fill="#ffffff" stroke="#111" stroke-width="1.65"/>
<rect x="1236.92" y="1014.58" width="48.15" height="35.35" fill="#fdd4d8" stroke="#111" stroke-width="1.65"/>
<text x="973.4" y="1096.91" font-size="35.1" text-anchor="end">CDS</text>
<rect x="988.93" y="1064.24" width="48.15" height="35.35" fill="#ffffff" stroke="#111" stroke-width="1.65"/>
<rect x="1050.92" y="1064.24" width="48.15" height="35.35" fill="#f98a91" stroke="#111" stroke-width="1.65"/>
<rect x="1112.92" y="1064.24" width="48.15" height="35.35" fill="#ffffff" stroke="#111" stroke-width="1.65"/>
<rect x="1174.92" y="1064.24" width="48.15" height="35.35" fill="#ffffff" stroke="#111" stroke-width="1.65"/>
<rect x="1236.92" y="1064.24" width="48.15" height="35.35" fill="#de321f" stroke="#111" stroke-width="1.65"/>
<text x="973.4" y="1146.57" font-size="35.1" text-anchor="end">3´ UTR</text>
<rect x="988.93" y="1113.89" width="48.15" height="35.35" fill="#ffffff" stroke="#111" stroke-width="1.65"/>
<rect x="1050.92" y="1113.89" width="48.15" height="35.35" fill="#e8434a" stroke="#111" stroke-width="1.65"/>
<rect x="1112.92" y="1113.89" width="48.15" height="35.35" fill="#fef7f8" stroke="#111" stroke-width="1.65"/>
<rect x="1174.92" y="1113.89" width="48.15" height="35.35" fill="#ffffff" stroke="#111" stroke-width="1.65"/>
<rect x="1236.92" y="1113.89" width="48.15" height="35.35" fill="#de321f" stroke="#111" stroke-width="1.65"/>
<text x="973.4" y="1196.23" font-size="35.1" text-anchor="end">intron</text>
<rect x="988.93" y="1163.56" width="48.15" height="35.35" fill="#ffffff" stroke="#111" stroke-width="1.65"/>
<rect x="1050.92" y="1163.56" width="48.15" height="35.35" fill="#ffffff" stroke="#111" stroke-width="1.65"/>
<rect x="1112.92" y="1163.56" width="48.15" height="35.35" fill="#ffffff" stroke="#111" stroke-width="1.65"/>
<rect x="1174.92" y="1163.56" width="48.15" height="35.35" fill="#ffffff" stroke="#111" stroke-width="1.65"/>
<rect x="1236.92" y="1163.56" width="48.15" height="35.35" fill="#ffffff" stroke="#111" stroke-width="1.65"/>
<text x="973.4" y="1245.89" font-size="35.1" text-anchor="end">ncRNA</text>
<rect x="988.93" y="1213.21" width="48.15" height="35.35" fill="#ffffff" stroke="#111" stroke-width="1.65"/>
<rect x="1050.92" y="1213.21" width="48.15" height="35.35" fill="#ffffff" stroke="#111" stroke-width="1.65"/>
<rect x="1112.92" y="1213.21" width="48.15" height="35.35" fill="#ffffff" stroke="#111" stroke-width="1.65"/>
<rect x="1174.92" y="1213.21" width="48.15" height="35.35" fill="#ffffff" stroke="#111" stroke-width="1.65"/>
<rect x="1236.92" y="1213.21" width="48.15" height="35.35" fill="#ffffff" stroke="#111" stroke-width="1.65"/>
<text x="973.4" y="1295.55" font-size="35.1" text-anchor="end">others</text>
<rect x="988.93" y="1262.88" width="48.15" height="35.35" fill="#ffffff" stroke="#111" stroke-width="1.65"/>
<rect x="1050.92" y="1262.88" width="48.15" height="35.35" fill="#ffffff" stroke="#111" stroke-width="1.65"/>
<rect x="1112.92" y="1262.88" width="48.15" height="35.35" fill="#ffffff" stroke="#111" stroke-width="1.65"/>
<rect x="1174.92" y="1262.88" width="48.15" height="35.35" fill="#ffffff" stroke="#111" stroke-width="1.65"/>
<rect x="1236.92" y="1262.88" width="48.15" height="35.35" fill="#ffffff" stroke="#111" stroke-width="1.65"/>
<text x="999.2" y="997.3" font-size="35.1" transform="rotate(-45 999.2 997.3)">ACCACU (5p-WT)</text>
<text x="1071" y="997.3" font-size="35.1" transform="rotate(-45 1071 997.3)">ACCACC (5p-G)</text>
<text x="1139.2" y="997.3" font-size="35.1" transform="rotate(-45 1139.2 997.3)">CUGUGG (3p.1)</text>
<text x="1201.2" y="997.3" font-size="35.1" transform="rotate(-45 1201.2 997.3)">UGUGGU (3p.2)</text>
<text x="1269.2" y="997.3" font-size="35.1" transform="rotate(-45 1269.2 997.3)">UACCUC (let-7)</text>
<text x="1376.2" y="1000.8" font-size="31.5">(P-value)</text>
<rect x="1371.13" y="1016.88" width="47.85" height="35.75" fill="#ffffff" stroke="#111" stroke-width="1.65"/>
<rect x="1371.13" y="1066.47" width="47.85" height="35.75" fill="#fdb1b6" stroke="#111" stroke-width="1.65"/>
<text x="1430.2" y="1097.15" font-size="26.6">10</text>
<text x="1457.7" y="1085.05" font-size="26.6">−10</text>
<rect x="1371.13" y="1116.08" width="47.85" height="35.75" fill="#f15d63" stroke="#111" stroke-width="1.65"/>
<text x="1430.2" y="1146.75" font-size="26.6">10</text>
<text x="1457.7" y="1134.65" font-size="26.6">−20</text>
<rect x="1371.13" y="1165.67" width="47.85" height="35.75" fill="#de321f" stroke="#111" stroke-width="1.65"/>
<text x="1430.2" y="1196.35" font-size="26.6">10</text>
<text x="1457.7" y="1184.25" font-size="26.6">−30</text>
<text x="-1.4" y="1416.3" font-size="50" font-weight="bold">c</text>
<text x="95.6" y="1425.3" font-size="41.8">Ago2 seCLIP CDS clusters</text>
<text x="312.3" y="1483.5" font-size="35.2" text-anchor="middle">G/+ vs WT</text>
<text x="766" y="1484.1" font-size="35.2" text-anchor="middle">G/G vs WT</text>
<text x="1218" y="1484.1" font-size="35.2" text-anchor="middle">KO vs WT</text>
<path d="M105,1509 V1839.2 H487.8" fill="none" stroke="#000" stroke-width="1.8"/>
<line x1="91.5" y1="1826.9" x2="105" y2="1826.9" stroke="#000" stroke-width="1.5" />
<text x="84" y="1833.9" font-size="29.3" text-anchor="end">0.0</text>
<line x1="91.5" y1="1765.9" x2="105" y2="1765.9" stroke="#000" stroke-width="1.5" />
<text x="84" y="1772.9" font-size="29.3" text-anchor="end">0.2</text>
<line x1="91.5" y1="1704.9" x2="105" y2="1704.9" stroke="#000" stroke-width="1.5" />
<text x="84" y="1711.9" font-size="29.3" text-anchor="end">0.4</text>
<line x1="91.5" y1="1643.9" x2="105" y2="1643.9" stroke="#000" stroke-width="1.5" />
<text x="84" y="1650.9" font-size="29.3" text-anchor="end">0.6</text>
<line x1="91.5" y1="1582.9" x2="105" y2="1582.9" stroke="#000" stroke-width="1.5" />
<text x="84" y="1589.9" font-size="29.3" text-anchor="end">0.8</text>
<line x1="91.5" y1="1521.9" x2="105" y2="1521.9" stroke="#000" stroke-width="1.5" />
<text x="84" y="1528.9" font-size="29.3" text-anchor="end">1.0</text>
<line x1="118.7" y1="1839.2" x2="118.7" y2="1853.8" stroke="#000" stroke-width="1.5" />
<text x="118.7" y="1882.6" font-size="29.3" text-anchor="middle">–1.0</text>
<line x1="207.25" y1="1839.2" x2="207.25" y2="1853.8" stroke="#000" stroke-width="1.5" />
<text x="207.25" y="1882.6" font-size="29.3" text-anchor="middle">–0.5</text>
<line x1="295.8" y1="1839.2" x2="295.8" y2="1853.8" stroke="#000" stroke-width="1.5" />
<text x="295.8" y="1882.6" font-size="29.3" text-anchor="middle">0</text>
<line x1="384.35" y1="1839.2" x2="384.35" y2="1853.8" stroke="#000" stroke-width="1.5" />
<text x="384.35" y="1882.6" font-size="29.3" text-anchor="middle">0.5</text>
<line x1="472.9" y1="1839.2" x2="472.9" y2="1853.8" stroke="#000" stroke-width="1.5" />
<text x="472.9" y="1882.6" font-size="29.3" text-anchor="middle">1.0</text>
<path d="M565.4,1509 V1839.2 H948.2" fill="none" stroke="#000" stroke-width="1.8"/>
<line x1="551.9" y1="1826.9" x2="565.4" y2="1826.9" stroke="#000" stroke-width="1.5" />
<text x="544.4" y="1833.9" font-size="29.3" text-anchor="end">0.0</text>
<line x1="551.9" y1="1765.9" x2="565.4" y2="1765.9" stroke="#000" stroke-width="1.5" />
<text x="544.4" y="1772.9" font-size="29.3" text-anchor="end">0.2</text>
<line x1="551.9" y1="1704.9" x2="565.4" y2="1704.9" stroke="#000" stroke-width="1.5" />
<text x="544.4" y="1711.9" font-size="29.3" text-anchor="end">0.4</text>
<line x1="551.9" y1="1643.9" x2="565.4" y2="1643.9" stroke="#000" stroke-width="1.5" />
<text x="544.4" y="1650.9" font-size="29.3" text-anchor="end">0.6</text>
<line x1="551.9" y1="1582.9" x2="565.4" y2="1582.9" stroke="#000" stroke-width="1.5" />
<text x="544.4" y="1589.9" font-size="29.3" text-anchor="end">0.8</text>
<line x1="551.9" y1="1521.9" x2="565.4" y2="1521.9" stroke="#000" stroke-width="1.5" />
<text x="544.4" y="1528.9" font-size="29.3" text-anchor="end">1.0</text>
<line x1="579.1" y1="1839.2" x2="579.1" y2="1853.8" stroke="#000" stroke-width="1.5" />
<text x="579.1" y="1882.6" font-size="29.3" text-anchor="middle">–1.0</text>
<line x1="667.65" y1="1839.2" x2="667.65" y2="1853.8" stroke="#000" stroke-width="1.5" />
<text x="667.65" y="1882.6" font-size="29.3" text-anchor="middle">–0.5</text>
<line x1="756.2" y1="1839.2" x2="756.2" y2="1853.8" stroke="#000" stroke-width="1.5" />
<text x="756.2" y="1882.6" font-size="29.3" text-anchor="middle">0</text>
<line x1="844.75" y1="1839.2" x2="844.75" y2="1853.8" stroke="#000" stroke-width="1.5" />
<text x="844.75" y="1882.6" font-size="29.3" text-anchor="middle">0.5</text>
<line x1="933.3" y1="1839.2" x2="933.3" y2="1853.8" stroke="#000" stroke-width="1.5" />
<text x="933.3" y="1882.6" font-size="29.3" text-anchor="middle">1.0</text>
<path d="M1025.5,1509 V1839.2 H1408.3" fill="none" stroke="#000" stroke-width="1.8"/>
<line x1="1012" y1="1826.9" x2="1025.5" y2="1826.9" stroke="#000" stroke-width="1.5" />
<text x="1004.5" y="1833.9" font-size="29.3" text-anchor="end">0.0</text>
<line x1="1012" y1="1765.9" x2="1025.5" y2="1765.9" stroke="#000" stroke-width="1.5" />
<text x="1004.5" y="1772.9" font-size="29.3" text-anchor="end">0.2</text>
<line x1="1012" y1="1704.9" x2="1025.5" y2="1704.9" stroke="#000" stroke-width="1.5" />
<text x="1004.5" y="1711.9" font-size="29.3" text-anchor="end">0.4</text>
<line x1="1012" y1="1643.9" x2="1025.5" y2="1643.9" stroke="#000" stroke-width="1.5" />
<text x="1004.5" y="1650.9" font-size="29.3" text-anchor="end">0.6</text>
<line x1="1012" y1="1582.9" x2="1025.5" y2="1582.9" stroke="#000" stroke-width="1.5" />
<text x="1004.5" y="1589.9" font-size="29.3" text-anchor="end">0.8</text>
<line x1="1012" y1="1521.9" x2="1025.5" y2="1521.9" stroke="#000" stroke-width="1.5" />
<text x="1004.5" y="1528.9" font-size="29.3" text-anchor="end">1.0</text>
<line x1="1039.2" y1="1839.2" x2="1039.2" y2="1853.8" stroke="#000" stroke-width="1.5" />
<text x="1039.2" y="1882.6" font-size="29.3" text-anchor="middle">–1.0</text>
<line x1="1127.75" y1="1839.2" x2="1127.75" y2="1853.8" stroke="#000" stroke-width="1.5" />
<text x="1127.75" y="1882.6" font-size="29.3" text-anchor="middle">–0.5</text>
<line x1="1216.3" y1="1839.2" x2="1216.3" y2="1853.8" stroke="#000" stroke-width="1.5" />
<text x="1216.3" y="1882.6" font-size="29.3" text-anchor="middle">0</text>
<line x1="1304.85" y1="1839.2" x2="1304.85" y2="1853.8" stroke="#000" stroke-width="1.5" />
<text x="1304.85" y="1882.6" font-size="29.3" text-anchor="middle">0.5</text>
<line x1="1393.4" y1="1839.2" x2="1393.4" y2="1853.8" stroke="#000" stroke-width="1.5" />
<text x="1393.4" y="1882.6" font-size="29.3" text-anchor="middle">1.0</text>
<text x="33" y="1674.6" font-size="35.5" text-anchor="middle" transform="rotate(-90 33 1674.6)">Cumulative fraction</text>
<clipPath id="cc1"><rect x="105" y="1509" width="382.8" height="330.2"/></clipPath>
<g clip-path="url(#cc1)">
<path d="M107,1825.4 C118.5,1824.9 158.17,1823.53 176,1822.4 C193.83,1821.27 203.02,1820.6 214,1818.6 C224.98,1816.6 234.52,1813.57 241.9,1810.4 C249.28,1807.23 253.67,1804.78 258.3,1799.6 C262.93,1794.42 265.9,1787.32 269.7,1779.3 C273.5,1771.28 278.13,1759.93 281.1,1751.5 C284.07,1743.07 285.07,1738.2 287.5,1728.7 C289.93,1719.2 293.22,1707.23 295.7,1694.5 C298.18,1681.77 300.4,1663.75 302.4,1652.3 C304.4,1640.85 306.17,1633.53 307.7,1625.8 C309.23,1618.07 310.28,1612.3 311.6,1605.9 C312.92,1599.5 314.05,1593.13 315.6,1587.4 C317.15,1581.67 318.68,1576.8 320.9,1571.5 C323.12,1566.2 325.82,1560.45 328.9,1555.6 C331.98,1550.75 335.43,1546.37 339.4,1542.4 C343.37,1538.43 348.28,1534.12 352.7,1531.8 C357.12,1529.48 359.28,1529.72 365.9,1528.5 C372.52,1527.28 380.05,1525.55 392.4,1524.5 C404.75,1523.45 423.73,1522.68 440,1522.2 C456.27,1521.72 481.67,1521.7 490,1521.6" fill="none" stroke="#0a0a0a" stroke-width="3.2" stroke-linecap="butt"/>
<polyline points="148.13,1827.21 193.73,1827.21 193.73,1823.66 214,1823.66 214.63,1819.86 217.8,1815.43 227.93,1814.16 229.2,1811.88 246.93,1811.88 248.2,1808.46 251.99,1805.93 255.79,1800.86 258.96,1795.79 260.23,1787.56 267.19,1786.93 270.99,1774.26 273.53,1764.13 276.06,1754 279.86,1743.86 282.39,1736.26 283.66,1728.66 284.93,1718.53 286.19,1710.93 288.73,1700.8 291.26,1693.2 292.53,1688.13 293.79,1674.2 295.06,1662.8 296.96,1647.6 294.69,1658.9 297.74,1637.71 301.05,1624.47 306.35,1601.96 308.99,1588.72 314.95,1564.88 318.26,1551.64 323.56,1535.75 326.21,1533.1 332.17,1531.78 336.8,1528.07 359.31,1528.07 359.31,1524.5 491.73,1524.5" fill="none" stroke="#de3320" stroke-width="3.2" stroke-linejoin="miter" />
<polyline points="107,1826.6 146.2,1826.6 146.2,1816.1 215.5,1816.1 215.5,1805.3 246.9,1805.3 246.9,1793.9 250.1,1793.9 250.1,1783.8 265.9,1783.8 265.9,1761.6 273.5,1761.6 273.5,1750.8 278.6,1750.8 278.6,1740.1 286.8,1740.1 286.8,1729.9 288.7,1729.9 288.7,1697 293.2,1697 293.2,1663.5 301.5,1663.5 301.5,1642 311,1642 311,1598 318.3,1598 318.3,1587.4 336.8,1587.4 336.8,1564.9 347.4,1564.9 347.4,1543 364,1543 364,1532.4 495,1532.4" fill="none" stroke="#304ca6" stroke-width="3.2" stroke-linejoin="miter" />
</g>
<text x="116.2" y="1534.5" font-size="24.9" fill="#de3320"><tspan font-style="italic">P</tspan> = 0.15 (D)</text>
<text x="116.2" y="1564.6" font-size="24.9" fill="#304ca6"><tspan font-style="italic">P</tspan> = 0.74 (U)</text>
<clipPath id="cc2"><rect x="565.4" y="1509" width="382.8" height="330.2"/></clipPath>
<g clip-path="url(#cc2)">
<path d="M566.36,1823.49 C573.55,1822.44 597.06,1819.18 609.53,1817.16 C622.01,1815.15 630.16,1814.04 641.2,1811.4 C652.23,1808.77 665.19,1805.89 675.74,1801.33 C686.29,1796.77 695.89,1791.73 704.53,1784.06 C713.16,1776.38 720.84,1765.35 727.55,1755.27 C734.27,1745.2 739.55,1735.6 744.82,1723.61 C750.1,1711.62 754.42,1697.7 759.22,1683.31 C764.01,1668.92 768.33,1651.65 773.61,1637.25 C778.89,1622.86 785.12,1608.95 790.88,1596.95 C796.64,1584.96 801.44,1574.17 808.15,1565.29 C814.87,1556.42 822.54,1549.7 831.18,1543.7 C839.82,1537.7 848.93,1532.43 859.97,1529.31 C871,1526.19 882.03,1525.9 897.39,1524.99 C912.74,1524.08 942.96,1524.03 952.08,1523.84" fill="none" stroke="#0a0a0a" stroke-width="3.2" stroke-linecap="butt"/>
<polyline points="566.36,1822.06 610.97,1814.86 639.76,1813.42 652.71,1809.1 664.23,1806.22 669.98,1803.34 681.5,1801.91 684.38,1799.03 695.89,1796.15 698.77,1791.83 707.4,1787.51 710.28,1781.76 716.04,1776 721.8,1770.24 727.55,1761.61 733.31,1752.97 739.07,1744.34 744.82,1735.7 747.7,1724.19 749.14,1706.91 753.46,1695.4 757.78,1681.01 760.66,1666.61 764.97,1660.86 770.73,1643.59 773.61,1640.71 780.81,1637.83 782.25,1629.19 788,1617.68 792.32,1611.92 793.76,1603.29 796.64,1594.65 800.96,1586.02 805.27,1571.62 811.03,1562.99 816.79,1554.35 821.11,1545.72 823.98,1544.28 839.82,1542.84 842.69,1539.96 848.45,1537.08 851.33,1532.76 859.97,1529.88 865.72,1527.01 871.48,1524.7 952.08,1524.13" fill="none" stroke="#de3320" stroke-width="3.2" stroke-linejoin="miter" />
<polyline points="566.36,1816.3 639.76,1816.3 639.76,1804.21 644.08,1804.21 644.08,1794.13 652.71,1794.13 652.71,1783.48 667.1,1783.48 667.1,1772.54 705.96,1772.54 705.96,1761.03 713.16,1761.03 713.16,1750.09 731.87,1750.09 731.87,1739.44 733.31,1739.44 733.31,1728.79 740.51,1728.79 740.51,1717.85 767.85,1717.85 767.85,1706.34 772.17,1706.34 772.17,1694.82 775.05,1694.82 775.05,1684.75 777.93,1684.75 777.93,1663.16 788,1663.16 788,1641.57 793.76,1641.57 793.76,1631.5 796.64,1631.5 796.64,1619.98 798.08,1619.98 798.08,1608.47 805.27,1608.47 805.27,1596.95 811.03,1596.95 811.03,1586.88 821.11,1586.88 821.11,1576.8 854.21,1576.8 854.21,1565.29 870.04,1565.29 870.04,1554.35 887.31,1554.35 887.31,1543.13 942,1543.13 942,1532.19 952.08,1532.19" fill="none" stroke="#304ca6" stroke-width="3.2" stroke-linejoin="miter" />
</g>
<text x="580.8" y="1534.5" font-size="24.9" fill="#de3320"><tspan font-style="italic">P</tspan> = 1.0 (D)</text>
<text x="580.8" y="1564.6" font-size="24.9" fill="#304ca6"><tspan font-style="italic">P</tspan> = 0.16 (U)</text>
<clipPath id="cc3"><rect x="1025.5" y="1509" width="382.8" height="330.2"/></clipPath>
<g clip-path="url(#cc3)">
<path d="M1026.36,1823.21 C1033.55,1822.44 1057.06,1820.33 1069.53,1818.6 C1082.01,1816.87 1090.16,1815.72 1101.2,1812.84 C1112.23,1809.97 1126.14,1806.13 1135.74,1801.33 C1145.33,1796.53 1152.05,1790.78 1158.77,1784.06 C1165.48,1777.34 1170.76,1769.67 1176.04,1761.03 C1181.32,1752.39 1185.63,1742.32 1190.43,1732.25 C1195.23,1722.17 1200.51,1711.14 1204.82,1700.58 C1209.14,1690.03 1212.5,1678.99 1216.34,1668.92 C1220.18,1658.84 1223.53,1649.73 1227.85,1640.13 C1232.17,1630.54 1236.01,1621.9 1242.25,1611.35 C1248.48,1600.79 1257.12,1586.64 1265.27,1576.8 C1273.43,1566.97 1283.02,1558.57 1291.18,1552.34 C1299.34,1546.1 1305.57,1542.74 1314.21,1539.38 C1322.84,1536.03 1326.68,1534.68 1342.99,1532.19 C1359.31,1529.69 1400.56,1525.71 1412.08,1524.42" fill="none" stroke="#0a0a0a" stroke-width="3.2" stroke-linecap="butt"/>
<polyline points="1062.34,1822.92 1129.98,1823.49 1135.74,1818.6 1141.5,1817.16 1153.01,1814.28 1158.77,1809.97 1164.53,1804.21 1170.28,1801.33 1176.04,1792.69 1181.8,1786.94 1187.55,1781.18 1193.31,1776.86 1200.51,1772.54 1201.95,1755.27 1204.82,1740.88 1209.14,1732.25 1212.02,1717.85 1214.9,1706.34 1217.78,1697.7 1220.66,1686.19 1224.97,1677.55 1227.85,1666.04 1230.73,1660.28 1236.49,1651.65 1240.81,1643.01 1246.56,1637.25 1249.44,1625.74 1252.32,1617.1 1256.64,1611.35 1260.96,1602.71 1263.83,1588.32 1266.71,1579.68 1275.35,1576.8 1283.98,1571.05 1289.74,1565.29 1292.62,1559.53 1298.38,1553.78 1304.13,1550.9 1308.45,1545.14 1314.21,1542.26 1322.84,1536.51 1334.36,1532.19 1337.24,1527.87 1354.51,1524.99 1377.54,1523.55 1380.41,1522.11 1412.08,1521.54" fill="none" stroke="#de3320" stroke-width="3.2" stroke-linejoin="miter" />
<polyline points="1026.36,1827.24 1129.98,1827.24 1129.98,1817.16 1165.96,1817.16 1165.96,1795.57 1180.36,1795.57 1180.36,1784.06 1201.37,1784.06 1201.37,1772.54 1216.91,1772.54 1216.91,1749.52 1232.17,1749.52 1232.17,1738 1233.61,1738 1233.61,1729.37 1240.81,1729.37 1240.81,1717.85 1245.12,1717.85 1245.12,1706.34 1248,1706.34 1248,1684.75 1258.08,1684.75 1258.08,1651.65 1265.27,1651.65 1265.27,1641.57 1269.59,1641.57 1269.59,1618.54 1272.47,1618.54 1272.47,1608.47 1281.11,1608.47 1281.11,1598.39 1288.3,1598.39 1288.3,1576.8 1296.94,1576.8 1296.94,1565.29 1301.26,1565.29 1301.26,1553.78 1314.21,1553.78 1314.21,1543.7 1337.24,1543.7 1337.24,1532.19 1412.08,1532.19" fill="none" stroke="#304ca6" stroke-width="3.2" stroke-linejoin="miter" />
</g>
<text x="1043.1" y="1534.1" font-size="24.9" fill="#de3320"><tspan font-style="italic">P</tspan> = 1.0 (D)</text>
<text x="1043.1" y="1563.9" font-size="24.9" fill="#304ca6"><tspan font-style="italic">P</tspan> = 0.00039 (U)</text>
<rect x="1316.4" y="1684.4" width="14.3" height="13.8" fill="#0a0a0a"/>
<text x="1337.5" y="1701.6" font-size="29.2">Control</text>
<rect x="1316.4" y="1727.9" width="14.3" height="13.8" fill="#304ca6"/>
<text x="1337.5" y="1745.1" font-size="29.2">WT ACCACU (5p–WT)</text>
<rect x="1316.4" y="1771.4" width="14.3" height="13.8" fill="#de3320"/>
<text x="1337.5" y="1788.6" font-size="29.2">G/G ACCACC (5p-G)</text>
<line x1="254.2" y1="1918.2" x2="1222" y2="1918.2" stroke="#000" stroke-width="2.9" />
<path d="M1245.1,1918.2 L1214,1905.5 L1220.7,1918.2 L1214,1930.9 Z" fill="#000"/>
<text x="761.3" y="1956.8" font-size="35.3" text-anchor="middle">mRNA fold change (log2)</text>
</svg>
</body></html>
